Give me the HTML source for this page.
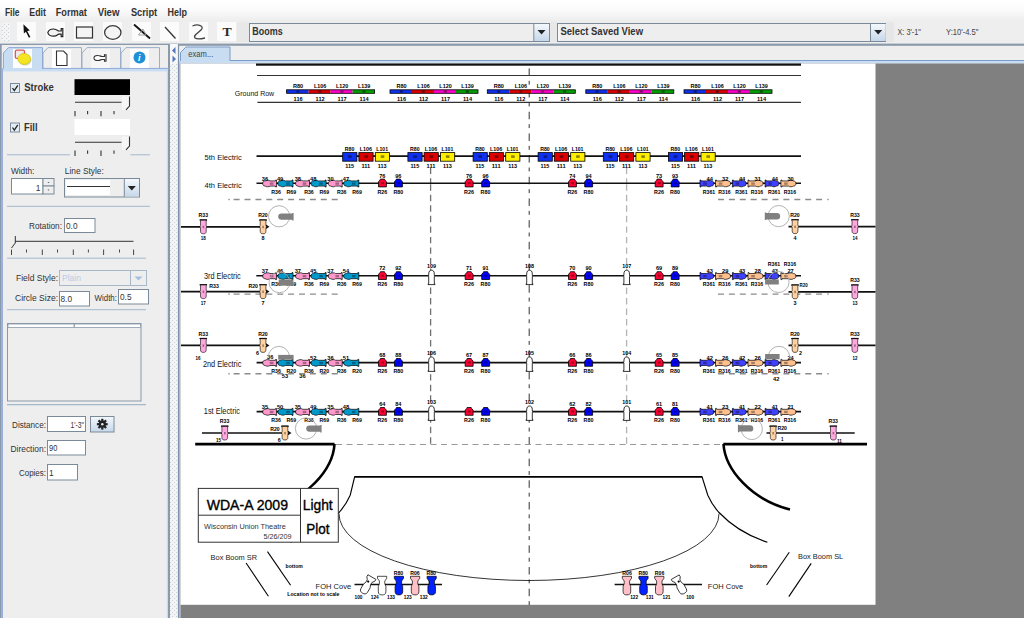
<!DOCTYPE html><html><head><meta charset="utf-8"><title>Light Plot</title>
<style>html,body{margin:0;padding:0;width:1024px;height:618px;overflow:hidden;background:#eeeeee;}svg{display:block;font-family:"Liberation Sans", sans-serif;}</style></head><body>
<svg width="1024" height="618" viewBox="0 0 1024 618">
<defs>
<linearGradient id="mbar" x1="0" y1="0" x2="0" y2="1"><stop offset="0" stop-color="#ffffff"/><stop offset="0.45" stop-color="#fbfbfb"/><stop offset="1" stop-color="#ededed"/></linearGradient>
<linearGradient id="btn" x1="0" y1="0" x2="0" y2="1"><stop offset="0" stop-color="#f4f8fc"/><stop offset="1" stop-color="#c6d8ea"/></linearGradient>
<linearGradient id="tabsel" x1="0" y1="0" x2="0" y2="1"><stop offset="0" stop-color="#c8ddf2"/><stop offset="1" stop-color="#c8ddf2"/></linearGradient>
<pattern id="dots" width="4" height="4" patternUnits="userSpaceOnUse"><rect width="4" height="4" fill="#f4f4f4"/><rect x="0" y="0" width="1" height="1" fill="#c8d0d8"/><rect x="2" y="2" width="1" height="1" fill="#c8d0d8"/></pattern>
<path id="ell" d="M0.5,3.5 C0.5,1.0 2.3,0.3 4.8,0.3 C6.4,0.3 7.4,0.9 8.4,1.0 L14.2,1.0 L14.2,0.2 L15.6,0.2 L15.6,6.8 L14.2,6.8 L14.2,6.0 L8.4,6.0 C7.4,6.1 6.4,6.7 4.8,6.7 C2.3,6.7 0.5,6.0 0.5,3.5 Z" stroke="#000" stroke-width="0.7"/>
<path id="gfish" d="M0.3,3.6 C0.3,1.2 1.8,0.6 4,0.6 L7.5,0.9 L13.5,0.9 L13.5,0 L15.6,0 L15.6,7.3 L13.5,7.3 L13.5,6.6 L7.5,6.6 L4,7 C1.8,7 0.3,6.2 0.3,3.6 Z" fill="#808080"/>
<path id="par" d="M2.1,0.3 L6.2,0.3 L6.6,1.3 L8.1,2.9 L8.1,8.1 L0.2,8.1 L0.2,2.9 L1.7,1.3 Z" stroke="#000" stroke-width="0.8"/>
<path id="wv" d="M0.7,4.2 C0.7,1.2 2.0,0.3 3.5,0.3 C5.0,0.3 6.3,1.2 6.3,4.2 L6.3,5.5 L6.8,6.0 L6.3,6.8 L6.3,13.9 L7.0,13.9 L7.0,14.7 L0.0,14.7 L0.0,13.9 L0.7,13.9 L0.7,6.8 L0.2,6.0 L0.7,5.5 Z" fill="#fff" stroke="#000" stroke-width="0.8"/>
<path id="bv" d="M0.0,0.3 L6.7,0.3 L6.7,1.1 L6.2,1.2 L6.2,6.2 L6.8,7.4 L6.2,8.7 L6.2,11.8 C6.2,13.9 5.0,14.4 3.35,14.4 C1.7,14.4 0.5,13.9 0.5,11.8 L0.5,8.7 L-0.1,7.4 L0.5,6.2 L0.5,1.2 L0.0,1.1 Z" stroke="#000" stroke-width="0.6"/>
<path id="foh" d="M0.3,0.3 L9.5,0.3 L9.5,2.4 L7.6,5.0 L7.6,7.8 L8.7,10.5 L8.7,15.8 C8.7,18.3 6.8,18.9 4.9,18.9 C3.0,18.9 1.1,18.3 1.1,15.8 L1.1,10.5 L2.2,7.8 L2.2,5.0 L0.3,2.4 Z" stroke="#000" stroke-width="0.7"/>
</defs>
<rect x="0" y="0" width="1024" height="21" fill="url(#mbar)"/>
<text x="4.9" y="15.6" font-size="10" textLength="14.6" lengthAdjust="spacingAndGlyphs" font-weight="bold" fill="#333">File</text>
<text x="29.3" y="15.6" font-size="10" textLength="16.6" lengthAdjust="spacingAndGlyphs" font-weight="bold" fill="#333">Edit</text>
<text x="55.7" y="15.6" font-size="10" textLength="31.2" lengthAdjust="spacingAndGlyphs" font-weight="bold" fill="#333">Format</text>
<text x="97.7" y="15.6" font-size="10" textLength="21.8" lengthAdjust="spacingAndGlyphs" font-weight="bold" fill="#333">View</text>
<text x="130.9" y="15.6" font-size="10" textLength="26.3" lengthAdjust="spacingAndGlyphs" font-weight="bold" fill="#333">Script</text>
<text x="167.6" y="15.6" font-size="10" textLength="19.5" lengthAdjust="spacingAndGlyphs" font-weight="bold" fill="#333">Help</text>
<rect x="0" y="21" width="1024" height="23" fill="#eeeeee"/>
<rect x="2" y="23" width="8" height="18" fill="url(#dots)"/>
<rect x="17" y="22" width="19" height="19" fill="#fbfbfb"/>
<rect x="46" y="22" width="19" height="19" fill="#fbfbfb"/>
<rect x="74" y="22" width="19" height="19" fill="#fbfbfb"/>
<rect x="103" y="22" width="19" height="19" fill="#fbfbfb"/>
<rect x="132" y="22" width="19" height="19" fill="#fbfbfb"/>
<rect x="160" y="22" width="19" height="19" fill="#fbfbfb"/>
<rect x="189" y="22" width="19" height="19" fill="#fbfbfb"/>
<rect x="217" y="22" width="19" height="19" fill="#fbfbfb"/>
<path d="M23.4,24.2 L29.8,30.4 L27.2,30.9 L30.4,37.0 L28.9,37.8 L25.9,31.7 L23.9,33.6 Z" fill="#111"/>
<path d="M47.8,32.6 C48.5,30.2 51,29 53.5,29 C56,29 57.5,30.3 58.5,31 L61.2,31 L61.2,28.6 L62.8,28.6 L62.8,36.6 L61.2,36.6 L61.2,34.2 L58.5,34.2 C57.5,34.9 56,36.2 53.5,36.2 C51,36.2 48.5,35 47.8,32.6 Z" fill="#f2f2f2" stroke="#222" stroke-width="1.2"/>
<rect x="76.5" y="27" width="16" height="11" fill="#f4f4f4" stroke="#333" stroke-width="1.2"/>
<ellipse cx="112.8" cy="32.5" rx="8.2" ry="6.8" fill="#f4f4f4" stroke="#3a3a3a" stroke-width="1.3"/>
<path d="M134,24.5 L150,38.5" stroke="#111" stroke-width="1.8"/>
<path d="M138.5,35 L143,29 L146,35 Z" fill="none" stroke="#999" stroke-width="0.9"/>
<line x1="165" y1="27" x2="175.5" y2="38.5" stroke="#333" stroke-width="1.3"/>
<path d="M192.5,26 C198,23.5 205,26 201,30 C197,34 193,35.5 195,38 C197,39.6 201,39 205,38" fill="none" stroke="#444" stroke-width="1.3"/>
<text x="222.4" y="36.2" font-size="12.2" textLength="9.2" lengthAdjust="spacingAndGlyphs" font-weight="bold" fill="#2a2a2a" font-family="Liberation Serif, serif">T</text>
<rect x="237" y="22" width="12" height="20" fill="#e8e8e8"/>
<rect x="249.5" y="23.5" width="300" height="18" fill="#eeeeee" stroke="#7a8a99" stroke-width="1"/>
<rect x="250.5" y="24.5" width="1" height="16" fill="#ffffff"/>
<rect x="534" y="24" width="15" height="17" fill="url(#btn)"/>
<line x1="533.8" y1="23.5" x2="533.8" y2="41.5" stroke="#7a8a99" stroke-width="1"/>
<path d="M537.5,30 L545.5,30 L541.5,34.5 Z" fill="#222"/>
<text x="252.3" y="35.4" font-size="10.6" textLength="30.4" lengthAdjust="spacingAndGlyphs" font-weight="bold" fill="#333">Booms</text>
<rect x="550" y="22" width="7" height="20" fill="#e8e8e8"/>
<rect x="557.5" y="23.5" width="328.5" height="18" fill="#eeeeee" stroke="#7a8a99" stroke-width="1"/>
<rect x="558.5" y="24.5" width="1" height="16" fill="#ffffff"/>
<rect x="871" y="24" width="14.5" height="17" fill="url(#btn)"/>
<line x1="870.5" y1="23.5" x2="870.5" y2="41.5" stroke="#7a8a99" stroke-width="1"/>
<path d="M874.2,30 L882.2,30 L878.2,34.5 Z" fill="#222"/>
<text x="560.5" y="35.4" font-size="10.6" textLength="82.5" lengthAdjust="spacingAndGlyphs" font-weight="bold" fill="#333">Select Saved View</text>
<rect x="886" y="22" width="8" height="20" fill="#e6e6e6"/>
<text x="897.5" y="35" font-size="8.4" textLength="23.4" lengthAdjust="spacingAndGlyphs" fill="#444">X: 3'-1&quot;</text>
<text x="946" y="35" font-size="8.4" textLength="32.4" lengthAdjust="spacingAndGlyphs" fill="#444">Y:10'-4.5&quot;</text>
<rect x="0" y="43.6" width="1024" height="2.2" fill="#8a9aaa"/>
<rect x="0" y="45" width="170" height="573" fill="#eeeeee"/>
<rect x="0" y="44" width="1.7" height="574" fill="#8a9aaa"/>
<rect x="168" y="45" width="2" height="573" fill="#8a9aaa"/>
<rect x="166.7" y="68.9" width="1.3" height="549" fill="#c8ddf2"/>
<path d="M3.4,69.5 L3.4,53 L8.5,47.6 L42.5,47.6 L42.5,69.5" fill="#c8ddf2" stroke="#8da8d8" stroke-width="1"/>
<path d="M43,68.4 L43,53 L48,47.6 L81.5,47.6 L81.5,68.4" fill="#eeeeee" stroke="#9aaec8" stroke-width="1"/>
<path d="M82,68.4 L82,53 L87,47.6 L120.5,47.6 L120.5,68.4" fill="#eeeeee" stroke="#9aaec8" stroke-width="1"/>
<path d="M121,68.4 L121,53 L126,47.6 L159.5,47.6 L159.5,68.4" fill="#eeeeee" stroke="#9aaec8" stroke-width="1"/>
<rect x="2.5" y="68.9" width="164.5" height="2.3" fill="#c8ddf2"/>
<rect x="2.5" y="71.2" width="164.5" height="0.8" fill="#dde8f3"/>
<line x1="42.5" y1="68.4" x2="169" y2="68.4" stroke="#8da8d8" stroke-width="1"/>
<line x1="2.4" y1="68.4" x2="2.4" y2="618" stroke="#8da8d8" stroke-width="1"/>
<rect x="13" y="49" width="19" height="19" fill="#ffffff"/>
<rect x="15.3" y="50.2" width="9.2" height="8.2" rx="1.5" fill="#f0e8e8" stroke="#d55" stroke-width="1.3"/>
<ellipse cx="25.2" cy="60.2" rx="6.3" ry="5.4" fill="#8a8a60" opacity="0.35"/>
<ellipse cx="24.2" cy="58.9" rx="6.4" ry="5.5" fill="#f4e424" stroke="#c8b800" stroke-width="0.6"/>
<rect x="52" y="49" width="19" height="19" fill="#ffffff"/>
<path d="M56.5,51 L63.5,51 L67,54.5 L67,65.5 L56.5,65.5 Z" fill="#fff" stroke="#333" stroke-width="1.1"/>
<rect x="91" y="49" width="19" height="19" fill="#f6f6f6"/>
<path d="M94,58 C94,56 95.5,55.3 98,55.5 C100,55.6 101,56.5 102,56.5 L104.5,56.5 L104.5,54.8 L106,54.8 L106,61.2 L104.5,61.2 L104.5,59.5 L102,59.5 C101,59.5 100,60.4 98,60.5 C95.5,60.7 94,60 94,58 Z" fill="#fff" stroke="#333" stroke-width="1.1"/>
<rect x="130" y="49" width="19" height="19" fill="#ffffff"/>
<circle cx="139.5" cy="57.5" r="6" fill="#1e90d8"/>
<text x="138" y="61" font-size="9" font-weight="bold" fill="#fff" font-style="italic">i</text>
<rect x="10.5" y="83.5" width="9" height="9" fill="#e4ecf5" stroke="#7a8a99" stroke-width="1"/>
<path d="M12.5,88 L14.3,90.6 L17.8,85.3" fill="none" stroke="#222" stroke-width="1.3"/>
<text x="24.3" y="91.2" font-size="10" textLength="29.5" lengthAdjust="spacingAndGlyphs" font-weight="bold" fill="#333">Stroke</text>
<rect x="74.5" y="79.2" width="55.5" height="15.8" fill="#000000"/>
<rect x="122" y="96.5" width="8" height="13.5" fill="#f6f6f6"/>
<line x1="75" y1="102.2" x2="121.5" y2="102.2" stroke="#333" stroke-width="1.1"/>
<path d="M129.5,96.5 L129.5,106 L126,109.8" fill="none" stroke="#333" stroke-width="1.1"/>
<line x1="75" y1="111" x2="75" y2="116.3" stroke="#333" stroke-width="1.1"/>
<line x1="87.6" y1="111" x2="87.6" y2="114.3" stroke="#333" stroke-width="1.1"/>
<line x1="101" y1="111" x2="101" y2="116.3" stroke="#333" stroke-width="1.1"/>
<line x1="114" y1="111" x2="114" y2="114.3" stroke="#333" stroke-width="1.1"/>
<rect x="10.5" y="123.0" width="9" height="9" fill="#e4ecf5" stroke="#7a8a99" stroke-width="1"/>
<path d="M12.5,127.5 L14.3,130.1 L17.8,124.8" fill="none" stroke="#222" stroke-width="1.3"/>
<text x="24" y="130.6" font-size="10" textLength="13.5" lengthAdjust="spacingAndGlyphs" font-weight="bold" fill="#333">Fill</text>
<rect x="74.5" y="119" width="55.5" height="16" fill="#ffffff"/>
<rect x="122" y="136.5" width="8" height="13.5" fill="#f6f6f6"/>
<line x1="75" y1="142.2" x2="121.5" y2="142.2" stroke="#333" stroke-width="1.1"/>
<path d="M129.5,136.5 L129.5,146 L126,149.8" fill="none" stroke="#333" stroke-width="1.1"/>
<line x1="75" y1="150.6" x2="75" y2="156" stroke="#333" stroke-width="1.1"/>
<line x1="87.6" y1="150.6" x2="87.6" y2="153.8" stroke="#333" stroke-width="1.1"/>
<line x1="101" y1="150.6" x2="101" y2="156" stroke="#333" stroke-width="1.1"/>
<line x1="114" y1="150.6" x2="114" y2="153.8" stroke="#333" stroke-width="1.1"/>
<line x1="7" y1="154.8" x2="70" y2="154.8" stroke="#a3b8cc" stroke-width="1"/>
<line x1="130.5" y1="154.8" x2="150" y2="154.8" stroke="#a3b8cc" stroke-width="1"/>
<text x="11" y="174" font-size="8.4" textLength="23.4" lengthAdjust="spacingAndGlyphs" fill="#333">Width:</text>
<rect x="11.5" y="178.5" width="31.5" height="15.5" fill="#ffffff" stroke="#7a8a99" stroke-width="1"/>
<text x="40.5" y="190.5" font-size="8.4" text-anchor="end" fill="#333">1</text>
<rect x="43" y="178.5" width="11" height="7.5" fill="#eeeeee" stroke="#7a8a99" stroke-width="1"/>
<rect x="43" y="186" width="11" height="8" fill="#eeeeee" stroke="#7a8a99" stroke-width="1"/>
<path d="M47.5,183 L49.5,183 L48.5,181.8 Z" fill="#555"/><path d="M47.5,189.5 L49.5,189.5 L48.5,190.7 Z" fill="#555"/>
<text x="64.8" y="174" font-size="8.4" textLength="39" lengthAdjust="spacingAndGlyphs" fill="#333">Line Style:</text>
<rect x="64.5" y="178.5" width="75" height="18.5" fill="#eeeeee" stroke="#7a8a99" stroke-width="1"/>
<rect x="66" y="180" width="44" height="15" fill="#ffffff"/>
<line x1="67" y1="186.5" x2="110" y2="186.5" stroke="#333" stroke-width="1"/>
<rect x="124.5" y="179" width="14.5" height="17.5" fill="url(#btn)"/>
<line x1="124.3" y1="178.5" x2="124.3" y2="197" stroke="#7a8a99" stroke-width="1"/>
<path d="M127.8,186 L135.8,186 L131.8,190.5 Z" fill="#222"/>
<line x1="7" y1="206.3" x2="150" y2="206.3" stroke="#a3b8cc" stroke-width="1"/>
<text x="29" y="229" font-size="8.4" textLength="33" lengthAdjust="spacingAndGlyphs" fill="#333">Rotation:</text>
<rect x="64.5" y="218.5" width="30.5" height="14" fill="#ffffff" stroke="#7a8a99" stroke-width="1"/>
<text x="66" y="229" font-size="8.4" textLength="11.5" lengthAdjust="spacingAndGlyphs" fill="#333">0.0</text>
<line x1="15" y1="241.3" x2="133.5" y2="241.3" stroke="#333" stroke-width="1"/>
<path d="M15.3,236 L15.3,243 L11.5,248" fill="none" stroke="#333" stroke-width="1"/>
<line x1="11.5" y1="249.5" x2="11.5" y2="255" stroke="#333" stroke-width="0.9"/>
<line x1="26.5" y1="249.5" x2="26.5" y2="252.5" stroke="#333" stroke-width="0.9"/>
<line x1="42.3" y1="249.5" x2="42.3" y2="255" stroke="#333" stroke-width="0.9"/>
<line x1="57.5" y1="249.5" x2="57.5" y2="252.5" stroke="#333" stroke-width="0.9"/>
<line x1="73.3" y1="249.5" x2="73.3" y2="255" stroke="#333" stroke-width="0.9"/>
<line x1="88.4" y1="249.5" x2="88.4" y2="252.5" stroke="#333" stroke-width="0.9"/>
<line x1="103.6" y1="249.5" x2="103.6" y2="255" stroke="#333" stroke-width="0.9"/>
<line x1="119.5" y1="249.5" x2="119.5" y2="252.5" stroke="#333" stroke-width="0.9"/>
<line x1="133.6" y1="249.5" x2="133.6" y2="255" stroke="#333" stroke-width="0.9"/>
<line x1="7" y1="258.2" x2="146" y2="258.2" stroke="#a3b8cc" stroke-width="1"/>
<text x="16" y="280.8" font-size="8.4" textLength="42" lengthAdjust="spacingAndGlyphs" fill="#333">Field Style:</text>
<rect x="59.5" y="270.5" width="87" height="15" fill="#eeeeee" stroke="#a8b8c8" stroke-width="1"/>
<line x1="130.5" y1="270.5" x2="130.5" y2="285.5" stroke="#a8b8c8" stroke-width="1"/>
<path d="M134.5,276.5 L142.5,276.5 L138.5,280.5 Z" fill="#a4c0e0"/>
<text x="62" y="281" font-size="8.4" textLength="19" lengthAdjust="spacingAndGlyphs" fill="#b8cce4">Plain</text>
<text x="15" y="301" font-size="8.4" textLength="43" lengthAdjust="spacingAndGlyphs" fill="#333">Circle Size:</text>
<rect x="59.5" y="291.5" width="30" height="14.5" fill="#ffffff" stroke="#7a8a99" stroke-width="1"/>
<text x="60.5" y="302.3" font-size="8.4" textLength="11.5" lengthAdjust="spacingAndGlyphs" fill="#333">8.0</text>
<text x="94.5" y="301" font-size="8.4" textLength="22.5" lengthAdjust="spacingAndGlyphs" fill="#333">Width:</text>
<rect x="118.5" y="289.5" width="30" height="14.5" fill="#ffffff" stroke="#7a8a99" stroke-width="1"/>
<text x="120" y="300.3" font-size="8.4" textLength="11.5" lengthAdjust="spacingAndGlyphs" fill="#333">0.5</text>
<line x1="7" y1="309.7" x2="146" y2="309.7" stroke="#a3b8cc" stroke-width="1"/>
<rect x="7.5" y="323.5" width="133.5" height="77.5" fill="#eeeeee" stroke="#8a98a8" stroke-width="1"/>
<rect x="8" y="324" width="66" height="3.5" fill="#ffffff" stroke="#8a98a8" stroke-width="0.8"/>
<rect x="74.5" y="324" width="66" height="3.5" fill="#ffffff" stroke="#8a98a8" stroke-width="0.8"/>
<line x1="7" y1="404.7" x2="146" y2="404.7" stroke="#a3b8cc" stroke-width="1.2"/>
<text x="12" y="427.5" font-size="8.4" textLength="34" lengthAdjust="spacingAndGlyphs" fill="#333">Distance:</text>
<rect x="47.5" y="416.5" width="38" height="15" fill="#ffffff" stroke="#7a8a99" stroke-width="1"/>
<text x="84" y="427.5" font-size="8.4" textLength="13.5" lengthAdjust="spacingAndGlyphs" text-anchor="end" fill="#333">1'-3&quot;</text>
<rect x="90.5" y="416.5" width="23.5" height="15.5" fill="url(#btn)" stroke="#7a8a99" stroke-width="1"/>
<g transform="translate(102.3,424.2)"><circle r="3.6" fill="#222"/><rect x="-1.1" y="-5.4" width="2.2" height="2.4" fill="#222" transform="rotate(0)"/><rect x="-1.1" y="-5.4" width="2.2" height="2.4" fill="#222" transform="rotate(45)"/><rect x="-1.1" y="-5.4" width="2.2" height="2.4" fill="#222" transform="rotate(90)"/><rect x="-1.1" y="-5.4" width="2.2" height="2.4" fill="#222" transform="rotate(135)"/><rect x="-1.1" y="-5.4" width="2.2" height="2.4" fill="#222" transform="rotate(180)"/><rect x="-1.1" y="-5.4" width="2.2" height="2.4" fill="#222" transform="rotate(225)"/><rect x="-1.1" y="-5.4" width="2.2" height="2.4" fill="#222" transform="rotate(270)"/><rect x="-1.1" y="-5.4" width="2.2" height="2.4" fill="#222" transform="rotate(315)"/><circle r="1.3" fill="#d8e4f0"/></g>
<text x="10.5" y="451.5" font-size="8.4" textLength="35.5" lengthAdjust="spacingAndGlyphs" fill="#333">Direction:</text>
<rect x="47.5" y="440.5" width="38" height="14.5" fill="#ffffff" stroke="#7a8a99" stroke-width="1"/>
<text x="49" y="451.3" font-size="8.4" textLength="8.3" lengthAdjust="spacingAndGlyphs" fill="#333">90</text>
<text x="19" y="475.5" font-size="8.4" textLength="27" lengthAdjust="spacingAndGlyphs" fill="#333">Copies:</text>
<rect x="47.5" y="464.5" width="30" height="15.5" fill="#ffffff" stroke="#7a8a99" stroke-width="1"/>
<text x="49" y="475.5" font-size="8.4" fill="#333">1</text>
<rect x="170" y="45.8" width="8" height="572.2" fill="url(#dots)"/>
<rect x="170" y="44" width="8" height="19.8" fill="#f8f8f8"/>
<path d="M175.5,47 L175.5,54 L172,50.5 Z" fill="#5577bb"/>
<path d="M172.5,55.5 L172.5,62.5 L176,59 Z" fill="#5577bb"/>
<line x1="178.5" y1="44.5" x2="178.5" y2="618" stroke="#7f93ad" stroke-width="1.2"/>
<line x1="179.7" y1="61" x2="179.7" y2="618" stroke="#98b4dc" stroke-width="1.2"/>
<path d="M180.5,61 L180.5,52.5 L186,47 L230,47 L230,61" fill="#c8ddf2" stroke="#7a9cc8" stroke-width="1"/>
<line x1="230" y1="60.5" x2="1024" y2="60.5" stroke="#7a9cc8" stroke-width="1"/>
<rect x="179.5" y="61" width="845" height="2.6" fill="#c8ddf2"/>
<text x="188.3" y="56.6" font-size="8.2" textLength="25" lengthAdjust="spacingAndGlyphs" fill="#444">exam...</text>
<rect x="180.5" y="63.5" width="843.5" height="554.5" fill="#808080"/>
<rect x="180.5" y="63.5" width="695.0" height="541.3" fill="#ffffff"/>
<g id="drawing">
<line x1="529.2" y1="68.4" x2="529.2" y2="605" stroke="#333" stroke-width="1" stroke-dasharray="7.5 4.9 3.9 5.38"/>
<line x1="430.6" y1="167.7" x2="430.6" y2="183.2" stroke="#707070" stroke-width="1.3" stroke-dasharray="6.4 4.12"/>
<line x1="430.6" y1="184.3" x2="430.6" y2="275.8" stroke="#707070" stroke-width="1.3" stroke-dasharray="6.4 4.12"/>
<line x1="430.6" y1="277.0" x2="430.6" y2="362.6" stroke="#707070" stroke-width="1.3" stroke-dasharray="6.4 4.12"/>
<line x1="430.6" y1="363.7" x2="430.6" y2="444.0" stroke="#707070" stroke-width="1.3" stroke-dasharray="6.4 4.12"/>
<line x1="626.6" y1="167.7" x2="626.6" y2="183.2" stroke="#b4b4b4" stroke-width="1.3" stroke-dasharray="6.4 4.12"/>
<line x1="626.6" y1="184.3" x2="626.6" y2="275.8" stroke="#b4b4b4" stroke-width="1.3" stroke-dasharray="6.4 4.12"/>
<line x1="626.6" y1="277.0" x2="626.6" y2="362.6" stroke="#b4b4b4" stroke-width="1.3" stroke-dasharray="6.4 4.12"/>
<line x1="626.6" y1="363.7" x2="626.6" y2="444.0" stroke="#b4b4b4" stroke-width="1.3" stroke-dasharray="6.4 4.12"/>
<rect x="256" y="63.5" width="545" height="2.2" fill="#111"/>
<line x1="257" y1="75.5" x2="801" y2="75.5" stroke="#333" stroke-width="1.1"/>
<line x1="257.4" y1="102.4" x2="801" y2="102.4" stroke="#333" stroke-width="1.1"/>
<text x="234.8" y="95.7" font-size="7.6" textLength="39.4" lengthAdjust="spacingAndGlyphs" fill="#111">Ground Row</text>
<rect x="286.6" y="89.8" width="22" height="3.5" fill="#1030f0"/>
<text x="298.1" y="88.1" font-size="5.9" textLength="10.2" lengthAdjust="spacingAndGlyphs" text-anchor="middle" font-weight="bold">R80</text>
<text x="298.1" y="100.6" font-size="5.9" textLength="9" lengthAdjust="spacingAndGlyphs" text-anchor="middle" font-weight="bold">116</text>
<rect x="296.40000000000003" y="90.6" width="3" height="1.8" fill="#000" opacity="0.55"/>
<rect x="308.6" y="89.8" width="22" height="3.5" fill="#dd0000"/>
<text x="320.1" y="88.1" font-size="5.9" textLength="12.3" lengthAdjust="spacingAndGlyphs" text-anchor="middle" font-weight="bold">L106</text>
<text x="320.1" y="100.6" font-size="5.9" textLength="9" lengthAdjust="spacingAndGlyphs" text-anchor="middle" font-weight="bold">112</text>
<rect x="318.40000000000003" y="90.6" width="3" height="1.8" fill="#000" opacity="0.55"/>
<rect x="330.6" y="89.8" width="22" height="3.5" fill="#ff00cc"/>
<text x="342.1" y="88.1" font-size="5.9" textLength="12.3" lengthAdjust="spacingAndGlyphs" text-anchor="middle" font-weight="bold">L120</text>
<text x="342.1" y="100.6" font-size="5.9" textLength="9" lengthAdjust="spacingAndGlyphs" text-anchor="middle" font-weight="bold">117</text>
<rect x="340.40000000000003" y="90.6" width="3" height="1.8" fill="#000" opacity="0.55"/>
<rect x="352.6" y="89.8" width="22" height="3.5" fill="#00a000"/>
<text x="364.1" y="88.1" font-size="5.9" textLength="12.3" lengthAdjust="spacingAndGlyphs" text-anchor="middle" font-weight="bold">L139</text>
<text x="364.1" y="100.6" font-size="5.9" textLength="9" lengthAdjust="spacingAndGlyphs" text-anchor="middle" font-weight="bold">114</text>
<rect x="362.40000000000003" y="90.6" width="3" height="1.8" fill="#000" opacity="0.55"/>
<rect x="286.6" y="89.8" width="88" height="3.5" fill="none" stroke="#000" stroke-width="0.8"/>
<rect x="390" y="89.8" width="22" height="3.5" fill="#1030f0"/>
<text x="401.5" y="88.1" font-size="5.9" textLength="10.2" lengthAdjust="spacingAndGlyphs" text-anchor="middle" font-weight="bold">R80</text>
<text x="401.5" y="100.6" font-size="5.9" textLength="9" lengthAdjust="spacingAndGlyphs" text-anchor="middle" font-weight="bold">116</text>
<rect x="399.8" y="90.6" width="3" height="1.8" fill="#000" opacity="0.55"/>
<rect x="412" y="89.8" width="22" height="3.5" fill="#dd0000"/>
<text x="423.5" y="88.1" font-size="5.9" textLength="12.3" lengthAdjust="spacingAndGlyphs" text-anchor="middle" font-weight="bold">L106</text>
<text x="423.5" y="100.6" font-size="5.9" textLength="9" lengthAdjust="spacingAndGlyphs" text-anchor="middle" font-weight="bold">112</text>
<rect x="421.8" y="90.6" width="3" height="1.8" fill="#000" opacity="0.55"/>
<rect x="434" y="89.8" width="22" height="3.5" fill="#ff00cc"/>
<text x="445.5" y="88.1" font-size="5.9" textLength="12.3" lengthAdjust="spacingAndGlyphs" text-anchor="middle" font-weight="bold">L120</text>
<text x="445.5" y="100.6" font-size="5.9" textLength="9" lengthAdjust="spacingAndGlyphs" text-anchor="middle" font-weight="bold">117</text>
<rect x="443.8" y="90.6" width="3" height="1.8" fill="#000" opacity="0.55"/>
<rect x="456" y="89.8" width="22" height="3.5" fill="#00a000"/>
<text x="467.5" y="88.1" font-size="5.9" textLength="12.3" lengthAdjust="spacingAndGlyphs" text-anchor="middle" font-weight="bold">L139</text>
<text x="467.5" y="100.6" font-size="5.9" textLength="9" lengthAdjust="spacingAndGlyphs" text-anchor="middle" font-weight="bold">114</text>
<rect x="465.8" y="90.6" width="3" height="1.8" fill="#000" opacity="0.55"/>
<rect x="390" y="89.8" width="88" height="3.5" fill="none" stroke="#000" stroke-width="0.8"/>
<rect x="487.3" y="89.8" width="22" height="3.5" fill="#1030f0"/>
<text x="498.8" y="88.1" font-size="5.9" textLength="10.2" lengthAdjust="spacingAndGlyphs" text-anchor="middle" font-weight="bold">R80</text>
<text x="498.8" y="100.6" font-size="5.9" textLength="9" lengthAdjust="spacingAndGlyphs" text-anchor="middle" font-weight="bold">116</text>
<rect x="497.1" y="90.6" width="3" height="1.8" fill="#000" opacity="0.55"/>
<rect x="509.3" y="89.8" width="22" height="3.5" fill="#dd0000"/>
<text x="520.8" y="88.1" font-size="5.9" textLength="12.3" lengthAdjust="spacingAndGlyphs" text-anchor="middle" font-weight="bold">L106</text>
<text x="520.8" y="100.6" font-size="5.9" textLength="9" lengthAdjust="spacingAndGlyphs" text-anchor="middle" font-weight="bold">112</text>
<rect x="519.1" y="90.6" width="3" height="1.8" fill="#000" opacity="0.55"/>
<rect x="531.3" y="89.8" width="22" height="3.5" fill="#ff00cc"/>
<text x="542.8" y="88.1" font-size="5.9" textLength="12.3" lengthAdjust="spacingAndGlyphs" text-anchor="middle" font-weight="bold">L120</text>
<text x="542.8" y="100.6" font-size="5.9" textLength="9" lengthAdjust="spacingAndGlyphs" text-anchor="middle" font-weight="bold">117</text>
<rect x="541.0999999999999" y="90.6" width="3" height="1.8" fill="#000" opacity="0.55"/>
<rect x="553.3" y="89.8" width="22" height="3.5" fill="#00a000"/>
<text x="564.8" y="88.1" font-size="5.9" textLength="12.3" lengthAdjust="spacingAndGlyphs" text-anchor="middle" font-weight="bold">L139</text>
<text x="564.8" y="100.6" font-size="5.9" textLength="9" lengthAdjust="spacingAndGlyphs" text-anchor="middle" font-weight="bold">114</text>
<rect x="563.0999999999999" y="90.6" width="3" height="1.8" fill="#000" opacity="0.55"/>
<rect x="487.3" y="89.8" width="88" height="3.5" fill="none" stroke="#000" stroke-width="0.8"/>
<rect x="585.8" y="89.8" width="22" height="3.5" fill="#1030f0"/>
<text x="597.3" y="88.1" font-size="5.9" textLength="10.2" lengthAdjust="spacingAndGlyphs" text-anchor="middle" font-weight="bold">R80</text>
<text x="597.3" y="100.6" font-size="5.9" textLength="9" lengthAdjust="spacingAndGlyphs" text-anchor="middle" font-weight="bold">116</text>
<rect x="595.5999999999999" y="90.6" width="3" height="1.8" fill="#000" opacity="0.55"/>
<rect x="607.8" y="89.8" width="22" height="3.5" fill="#dd0000"/>
<text x="619.3" y="88.1" font-size="5.9" textLength="12.3" lengthAdjust="spacingAndGlyphs" text-anchor="middle" font-weight="bold">L106</text>
<text x="619.3" y="100.6" font-size="5.9" textLength="9" lengthAdjust="spacingAndGlyphs" text-anchor="middle" font-weight="bold">112</text>
<rect x="617.5999999999999" y="90.6" width="3" height="1.8" fill="#000" opacity="0.55"/>
<rect x="629.8" y="89.8" width="22" height="3.5" fill="#ff00cc"/>
<text x="641.3" y="88.1" font-size="5.9" textLength="12.3" lengthAdjust="spacingAndGlyphs" text-anchor="middle" font-weight="bold">L120</text>
<text x="641.3" y="100.6" font-size="5.9" textLength="9" lengthAdjust="spacingAndGlyphs" text-anchor="middle" font-weight="bold">117</text>
<rect x="639.5999999999999" y="90.6" width="3" height="1.8" fill="#000" opacity="0.55"/>
<rect x="651.8" y="89.8" width="22" height="3.5" fill="#00a000"/>
<text x="663.3" y="88.1" font-size="5.9" textLength="12.3" lengthAdjust="spacingAndGlyphs" text-anchor="middle" font-weight="bold">L139</text>
<text x="663.3" y="100.6" font-size="5.9" textLength="9" lengthAdjust="spacingAndGlyphs" text-anchor="middle" font-weight="bold">114</text>
<rect x="661.5999999999999" y="90.6" width="3" height="1.8" fill="#000" opacity="0.55"/>
<rect x="585.8" y="89.8" width="88" height="3.5" fill="none" stroke="#000" stroke-width="0.8"/>
<rect x="684" y="89.8" width="22" height="3.5" fill="#1030f0"/>
<text x="695.5" y="88.1" font-size="5.9" textLength="10.2" lengthAdjust="spacingAndGlyphs" text-anchor="middle" font-weight="bold">R80</text>
<text x="695.5" y="100.6" font-size="5.9" textLength="9" lengthAdjust="spacingAndGlyphs" text-anchor="middle" font-weight="bold">116</text>
<rect x="693.8" y="90.6" width="3" height="1.8" fill="#000" opacity="0.55"/>
<rect x="706" y="89.8" width="22" height="3.5" fill="#dd0000"/>
<text x="717.5" y="88.1" font-size="5.9" textLength="12.3" lengthAdjust="spacingAndGlyphs" text-anchor="middle" font-weight="bold">L106</text>
<text x="717.5" y="100.6" font-size="5.9" textLength="9" lengthAdjust="spacingAndGlyphs" text-anchor="middle" font-weight="bold">112</text>
<rect x="715.8" y="90.6" width="3" height="1.8" fill="#000" opacity="0.55"/>
<rect x="728" y="89.8" width="22" height="3.5" fill="#ff00cc"/>
<text x="739.5" y="88.1" font-size="5.9" textLength="12.3" lengthAdjust="spacingAndGlyphs" text-anchor="middle" font-weight="bold">L120</text>
<text x="739.5" y="100.6" font-size="5.9" textLength="9" lengthAdjust="spacingAndGlyphs" text-anchor="middle" font-weight="bold">117</text>
<rect x="737.8" y="90.6" width="3" height="1.8" fill="#000" opacity="0.55"/>
<rect x="750" y="89.8" width="22" height="3.5" fill="#00a000"/>
<text x="761.5" y="88.1" font-size="5.9" textLength="12.3" lengthAdjust="spacingAndGlyphs" text-anchor="middle" font-weight="bold">L139</text>
<text x="761.5" y="100.6" font-size="5.9" textLength="9" lengthAdjust="spacingAndGlyphs" text-anchor="middle" font-weight="bold">114</text>
<rect x="759.8" y="90.6" width="3" height="1.8" fill="#000" opacity="0.55"/>
<rect x="684" y="89.8" width="88" height="3.5" fill="none" stroke="#000" stroke-width="0.8"/>
<text x="204.6" y="160.2" font-size="8.1" textLength="37.2" lengthAdjust="spacingAndGlyphs" fill="#111">5th Electric</text>
<line x1="256.5" y1="156.1" x2="801" y2="156.1" stroke="#111" stroke-width="1.6"/>
<rect x="342.7" y="152.6" width="14.2" height="8.6" fill="#1030f0" stroke="#000" stroke-width="0.8"/>
<text x="349.6" y="150.6" font-size="5.9" textLength="9.5" lengthAdjust="spacingAndGlyphs" text-anchor="middle" font-weight="bold">R80</text>
<text x="349.6" y="168.1" font-size="5.9" textLength="8.8" lengthAdjust="spacingAndGlyphs" text-anchor="middle" font-weight="bold">115</text>
<rect x="348.1" y="155.3" width="3.6" height="2.6" fill="#000" opacity="0.45"/>
<rect x="358.9" y="152.6" width="14.2" height="8.6" fill="#dd0000" stroke="#000" stroke-width="0.8"/>
<text x="365.8" y="150.6" font-size="5.9" textLength="12.3" lengthAdjust="spacingAndGlyphs" text-anchor="middle" font-weight="bold">L106</text>
<text x="365.8" y="168.1" font-size="5.9" textLength="8.8" lengthAdjust="spacingAndGlyphs" text-anchor="middle" font-weight="bold">111</text>
<rect x="364.3" y="155.3" width="3.6" height="2.6" fill="#000" opacity="0.45"/>
<rect x="375.3" y="152.6" width="14.2" height="8.6" fill="#ffee00" stroke="#000" stroke-width="0.8"/>
<text x="382.20000000000005" y="150.6" font-size="5.9" textLength="11.7" lengthAdjust="spacingAndGlyphs" text-anchor="middle" font-weight="bold">L101</text>
<text x="382.20000000000005" y="168.1" font-size="5.9" textLength="8.8" lengthAdjust="spacingAndGlyphs" text-anchor="middle" font-weight="bold">113</text>
<rect x="380.70000000000005" y="155.3" width="3.6" height="2.6" fill="#000" opacity="0.45"/>
<rect x="407.9" y="152.6" width="14.2" height="8.6" fill="#1030f0" stroke="#000" stroke-width="0.8"/>
<text x="414.8" y="150.6" font-size="5.9" textLength="9.5" lengthAdjust="spacingAndGlyphs" text-anchor="middle" font-weight="bold">R80</text>
<text x="414.8" y="168.1" font-size="5.9" textLength="8.8" lengthAdjust="spacingAndGlyphs" text-anchor="middle" font-weight="bold">115</text>
<rect x="413.3" y="155.3" width="3.6" height="2.6" fill="#000" opacity="0.45"/>
<rect x="424.09999999999997" y="152.6" width="14.2" height="8.6" fill="#dd0000" stroke="#000" stroke-width="0.8"/>
<text x="431.0" y="150.6" font-size="5.9" textLength="12.3" lengthAdjust="spacingAndGlyphs" text-anchor="middle" font-weight="bold">L106</text>
<text x="431.0" y="168.1" font-size="5.9" textLength="8.8" lengthAdjust="spacingAndGlyphs" text-anchor="middle" font-weight="bold">111</text>
<rect x="429.5" y="155.3" width="3.6" height="2.6" fill="#000" opacity="0.45"/>
<rect x="440.5" y="152.6" width="14.2" height="8.6" fill="#ffee00" stroke="#000" stroke-width="0.8"/>
<text x="447.40000000000003" y="150.6" font-size="5.9" textLength="11.7" lengthAdjust="spacingAndGlyphs" text-anchor="middle" font-weight="bold">L101</text>
<text x="447.40000000000003" y="168.1" font-size="5.9" textLength="8.8" lengthAdjust="spacingAndGlyphs" text-anchor="middle" font-weight="bold">113</text>
<rect x="445.90000000000003" y="155.3" width="3.6" height="2.6" fill="#000" opacity="0.45"/>
<rect x="473.09999999999997" y="152.6" width="14.2" height="8.6" fill="#1030f0" stroke="#000" stroke-width="0.8"/>
<text x="480.0" y="150.6" font-size="5.9" textLength="9.5" lengthAdjust="spacingAndGlyphs" text-anchor="middle" font-weight="bold">R80</text>
<text x="480.0" y="168.1" font-size="5.9" textLength="8.8" lengthAdjust="spacingAndGlyphs" text-anchor="middle" font-weight="bold">115</text>
<rect x="478.5" y="155.3" width="3.6" height="2.6" fill="#000" opacity="0.45"/>
<rect x="489.29999999999995" y="152.6" width="14.2" height="8.6" fill="#dd0000" stroke="#000" stroke-width="0.8"/>
<text x="496.2" y="150.6" font-size="5.9" textLength="12.3" lengthAdjust="spacingAndGlyphs" text-anchor="middle" font-weight="bold">L106</text>
<text x="496.2" y="168.1" font-size="5.9" textLength="8.8" lengthAdjust="spacingAndGlyphs" text-anchor="middle" font-weight="bold">111</text>
<rect x="494.7" y="155.3" width="3.6" height="2.6" fill="#000" opacity="0.45"/>
<rect x="505.7" y="152.6" width="14.2" height="8.6" fill="#ffee00" stroke="#000" stroke-width="0.8"/>
<text x="512.6" y="150.6" font-size="5.9" textLength="11.7" lengthAdjust="spacingAndGlyphs" text-anchor="middle" font-weight="bold">L101</text>
<text x="512.6" y="168.1" font-size="5.9" textLength="8.8" lengthAdjust="spacingAndGlyphs" text-anchor="middle" font-weight="bold">113</text>
<rect x="511.1" y="155.3" width="3.6" height="2.6" fill="#000" opacity="0.45"/>
<rect x="538.1" y="152.6" width="14.2" height="8.6" fill="#1030f0" stroke="#000" stroke-width="0.8"/>
<text x="545.0" y="150.6" font-size="5.9" textLength="9.5" lengthAdjust="spacingAndGlyphs" text-anchor="middle" font-weight="bold">R80</text>
<text x="545.0" y="168.1" font-size="5.9" textLength="8.8" lengthAdjust="spacingAndGlyphs" text-anchor="middle" font-weight="bold">115</text>
<rect x="543.5" y="155.3" width="3.6" height="2.6" fill="#000" opacity="0.45"/>
<rect x="554.3000000000001" y="152.6" width="14.2" height="8.6" fill="#dd0000" stroke="#000" stroke-width="0.8"/>
<text x="561.2" y="150.6" font-size="5.9" textLength="12.3" lengthAdjust="spacingAndGlyphs" text-anchor="middle" font-weight="bold">L106</text>
<text x="561.2" y="168.1" font-size="5.9" textLength="8.8" lengthAdjust="spacingAndGlyphs" text-anchor="middle" font-weight="bold">111</text>
<rect x="559.7" y="155.3" width="3.6" height="2.6" fill="#000" opacity="0.45"/>
<rect x="570.7" y="152.6" width="14.2" height="8.6" fill="#ffee00" stroke="#000" stroke-width="0.8"/>
<text x="577.6" y="150.6" font-size="5.9" textLength="11.7" lengthAdjust="spacingAndGlyphs" text-anchor="middle" font-weight="bold">L101</text>
<text x="577.6" y="168.1" font-size="5.9" textLength="8.8" lengthAdjust="spacingAndGlyphs" text-anchor="middle" font-weight="bold">113</text>
<rect x="576.1" y="155.3" width="3.6" height="2.6" fill="#000" opacity="0.45"/>
<rect x="603.3" y="152.6" width="14.2" height="8.6" fill="#1030f0" stroke="#000" stroke-width="0.8"/>
<text x="610.1999999999999" y="150.6" font-size="5.9" textLength="9.5" lengthAdjust="spacingAndGlyphs" text-anchor="middle" font-weight="bold">R80</text>
<text x="610.1999999999999" y="168.1" font-size="5.9" textLength="8.8" lengthAdjust="spacingAndGlyphs" text-anchor="middle" font-weight="bold">115</text>
<rect x="608.6999999999999" y="155.3" width="3.6" height="2.6" fill="#000" opacity="0.45"/>
<rect x="619.5" y="152.6" width="14.2" height="8.6" fill="#dd0000" stroke="#000" stroke-width="0.8"/>
<text x="626.4" y="150.6" font-size="5.9" textLength="12.3" lengthAdjust="spacingAndGlyphs" text-anchor="middle" font-weight="bold">L106</text>
<text x="626.4" y="168.1" font-size="5.9" textLength="8.8" lengthAdjust="spacingAndGlyphs" text-anchor="middle" font-weight="bold">111</text>
<rect x="624.9" y="155.3" width="3.6" height="2.6" fill="#000" opacity="0.45"/>
<rect x="635.9" y="152.6" width="14.2" height="8.6" fill="#ffee00" stroke="#000" stroke-width="0.8"/>
<text x="642.8" y="150.6" font-size="5.9" textLength="11.7" lengthAdjust="spacingAndGlyphs" text-anchor="middle" font-weight="bold">L101</text>
<text x="642.8" y="168.1" font-size="5.9" textLength="8.8" lengthAdjust="spacingAndGlyphs" text-anchor="middle" font-weight="bold">113</text>
<rect x="641.3" y="155.3" width="3.6" height="2.6" fill="#000" opacity="0.45"/>
<rect x="668.4" y="152.6" width="14.2" height="8.6" fill="#1030f0" stroke="#000" stroke-width="0.8"/>
<text x="675.3" y="150.6" font-size="5.9" textLength="9.5" lengthAdjust="spacingAndGlyphs" text-anchor="middle" font-weight="bold">R80</text>
<text x="675.3" y="168.1" font-size="5.9" textLength="8.8" lengthAdjust="spacingAndGlyphs" text-anchor="middle" font-weight="bold">115</text>
<rect x="673.8" y="155.3" width="3.6" height="2.6" fill="#000" opacity="0.45"/>
<rect x="684.6" y="152.6" width="14.2" height="8.6" fill="#dd0000" stroke="#000" stroke-width="0.8"/>
<text x="691.5" y="150.6" font-size="5.9" textLength="12.3" lengthAdjust="spacingAndGlyphs" text-anchor="middle" font-weight="bold">L106</text>
<text x="691.5" y="168.1" font-size="5.9" textLength="8.8" lengthAdjust="spacingAndGlyphs" text-anchor="middle" font-weight="bold">111</text>
<rect x="690.0" y="155.3" width="3.6" height="2.6" fill="#000" opacity="0.45"/>
<rect x="701.0" y="152.6" width="14.2" height="8.6" fill="#ffee00" stroke="#000" stroke-width="0.8"/>
<text x="707.9" y="150.6" font-size="5.9" textLength="11.7" lengthAdjust="spacingAndGlyphs" text-anchor="middle" font-weight="bold">L101</text>
<text x="707.9" y="168.1" font-size="5.9" textLength="8.8" lengthAdjust="spacingAndGlyphs" text-anchor="middle" font-weight="bold">113</text>
<rect x="706.4" y="155.3" width="3.6" height="2.6" fill="#000" opacity="0.45"/>
<text x="204.6" y="187.9" font-size="8.1" textLength="37.2" lengthAdjust="spacingAndGlyphs" fill="#111">4th Electric</text>
<line x1="256.5" y1="183.2" x2="801" y2="183.2" stroke="#111" stroke-width="1.6"/>
<path d="M262.70,183.50 C262.70,181.60 263.70,181.00 265.20,180.90 C266.20,180.00 269.00,180.00 270.00,180.90 L275.60,180.90 L275.60,180.00 L276.60,180.00 L276.60,187.00 L275.60,187.00 L275.60,186.10 L270.00,186.10 C269.00,187.00 266.20,187.00 265.20,186.10 C263.70,186.00 262.70,185.40 262.70,183.50 Z" fill="#ff99cc" stroke="#000" stroke-width="0.7"/>
<rect x="269.79999999999995" y="182.4" width="3.6" height="2.4" fill="#000" opacity="0.35"/>
<text x="264.9" y="180.7" font-size="5.9" textLength="6.3" lengthAdjust="spacingAndGlyphs" text-anchor="middle" font-weight="bold">36</text>
<text x="276.09999999999997" y="193.6" font-size="5.9" textLength="9.6" lengthAdjust="spacingAndGlyphs" text-anchor="middle" font-weight="bold">R36</text>
<path d="M277.90,183.50 C277.90,181.60 278.90,181.00 280.40,180.90 C281.40,180.00 284.20,180.00 285.20,180.90 L292.00,180.90 L292.00,180.00 L293.00,180.00 L293.00,187.00 L292.00,187.00 L292.00,186.10 L285.20,186.10 C284.20,187.00 281.40,187.00 280.40,186.10 C278.90,186.00 277.90,185.40 277.90,183.50 Z" fill="#0099cc" stroke="#000" stroke-width="0.7"/>
<rect x="286.2" y="182.4" width="3.6" height="2.4" fill="#000" opacity="0.35"/>
<text x="280.1" y="180.7" font-size="5.9" textLength="6.3" lengthAdjust="spacingAndGlyphs" text-anchor="middle" font-weight="bold">49</text>
<text x="291.3" y="193.6" font-size="5.9" textLength="9.6" lengthAdjust="spacingAndGlyphs" text-anchor="middle" font-weight="bold">R69</text>
<path d="M295.60,183.50 C295.60,181.60 296.60,181.00 298.10,180.90 C299.10,180.00 301.90,180.00 302.90,180.90 L308.50,180.90 L308.50,180.00 L309.50,180.00 L309.50,187.00 L308.50,187.00 L308.50,186.10 L302.90,186.10 C301.90,187.00 299.10,187.00 298.10,186.10 C296.60,186.00 295.60,185.40 295.60,183.50 Z" fill="#ff99cc" stroke="#000" stroke-width="0.7"/>
<rect x="302.7" y="182.4" width="3.6" height="2.4" fill="#000" opacity="0.35"/>
<text x="297.8" y="180.7" font-size="5.9" textLength="6.3" lengthAdjust="spacingAndGlyphs" text-anchor="middle" font-weight="bold">38</text>
<text x="309.0" y="193.6" font-size="5.9" textLength="9.6" lengthAdjust="spacingAndGlyphs" text-anchor="middle" font-weight="bold">R36</text>
<path d="M311.00,183.50 C311.00,181.60 312.00,181.00 313.50,180.90 C314.50,180.00 317.30,180.00 318.30,180.90 L325.10,180.90 L325.10,180.00 L326.10,180.00 L326.10,187.00 L325.10,187.00 L325.10,186.10 L318.30,186.10 C317.30,187.00 314.50,187.00 313.50,186.10 C312.00,186.00 311.00,185.40 311.00,183.50 Z" fill="#0099cc" stroke="#000" stroke-width="0.7"/>
<rect x="319.29999999999995" y="182.4" width="3.6" height="2.4" fill="#000" opacity="0.35"/>
<text x="313.2" y="180.7" font-size="5.9" textLength="6.3" lengthAdjust="spacingAndGlyphs" text-anchor="middle" font-weight="bold">48</text>
<text x="324.4" y="193.6" font-size="5.9" textLength="9.6" lengthAdjust="spacingAndGlyphs" text-anchor="middle" font-weight="bold">R69</text>
<path d="M328.30,183.50 C328.30,181.60 329.30,181.00 330.80,180.90 C331.80,180.00 334.60,180.00 335.60,180.90 L341.20,180.90 L341.20,180.00 L342.20,180.00 L342.20,187.00 L341.20,187.00 L341.20,186.10 L335.60,186.10 C334.60,187.00 331.80,187.00 330.80,186.10 C329.30,186.00 328.30,185.40 328.30,183.50 Z" fill="#ff99cc" stroke="#000" stroke-width="0.7"/>
<rect x="335.4" y="182.4" width="3.6" height="2.4" fill="#000" opacity="0.35"/>
<text x="330.5" y="180.7" font-size="5.9" textLength="6.3" lengthAdjust="spacingAndGlyphs" text-anchor="middle" font-weight="bold">30</text>
<text x="341.7" y="193.6" font-size="5.9" textLength="9.6" lengthAdjust="spacingAndGlyphs" text-anchor="middle" font-weight="bold">R36</text>
<path d="M343.70,183.50 C343.70,181.60 344.70,181.00 346.20,180.90 C347.20,180.00 350.00,180.00 351.00,180.90 L357.80,180.90 L357.80,180.00 L358.80,180.00 L358.80,187.00 L357.80,187.00 L357.80,186.10 L351.00,186.10 C350.00,187.00 347.20,187.00 346.20,186.10 C344.70,186.00 343.70,185.40 343.70,183.50 Z" fill="#0099cc" stroke="#000" stroke-width="0.7"/>
<rect x="351.99999999999994" y="182.4" width="3.6" height="2.4" fill="#000" opacity="0.35"/>
<text x="345.9" y="180.7" font-size="5.9" textLength="6.3" lengthAdjust="spacingAndGlyphs" text-anchor="middle" font-weight="bold">47</text>
<text x="357.09999999999997" y="193.6" font-size="5.9" textLength="9.6" lengthAdjust="spacingAndGlyphs" text-anchor="middle" font-weight="bold">R69</text>
<path d="M713.80,183.50 C713.80,181.60 712.80,181.00 711.30,180.90 C710.30,180.00 707.50,180.00 706.50,180.90 L701.00,180.90 L701.00,180.00 L700.00,180.00 L700.00,187.00 L701.00,187.00 L701.00,186.10 L706.50,186.10 C707.50,187.00 710.30,187.00 711.30,186.10 C712.80,186.00 713.80,185.40 713.80,183.50 Z" fill="#4040ff" stroke="#000" stroke-width="0.7"/>
<rect x="703.2" y="182.4" width="3.6" height="2.4" fill="#000" opacity="0.35"/>
<text x="709.7" y="180.7" font-size="5.9" textLength="6.3" lengthAdjust="spacingAndGlyphs" text-anchor="middle" font-weight="bold">44</text>
<text x="709.0" y="193.6" font-size="5.9" textLength="12.4" lengthAdjust="spacingAndGlyphs" text-anchor="middle" font-weight="bold">R361</text>
<path d="M730.50,183.50 C730.50,181.60 729.50,181.00 728.00,180.90 C727.00,180.00 724.20,180.00 723.20,180.90 L716.50,180.90 L716.50,180.00 L715.50,180.00 L715.50,187.00 L716.50,187.00 L716.50,186.10 L723.20,186.10 C724.20,187.00 727.00,187.00 728.00,186.10 C729.50,186.00 730.50,185.40 730.50,183.50 Z" fill="#ffc090" stroke="#000" stroke-width="0.7"/>
<rect x="718.7" y="182.4" width="3.6" height="2.4" fill="#000" opacity="0.35"/>
<text x="725.2" y="180.7" font-size="5.9" textLength="6.3" lengthAdjust="spacingAndGlyphs" text-anchor="middle" font-weight="bold">32</text>
<text x="724.5" y="193.6" font-size="5.9" textLength="12.4" lengthAdjust="spacingAndGlyphs" text-anchor="middle" font-weight="bold">R316</text>
<path d="M746.20,183.50 C746.20,181.60 745.20,181.00 743.70,180.90 C742.70,180.00 739.90,180.00 738.90,180.90 L733.40,180.90 L733.40,180.00 L732.40,180.00 L732.40,187.00 L733.40,187.00 L733.40,186.10 L738.90,186.10 C739.90,187.00 742.70,187.00 743.70,186.10 C745.20,186.00 746.20,185.40 746.20,183.50 Z" fill="#4040ff" stroke="#000" stroke-width="0.7"/>
<rect x="735.6" y="182.4" width="3.6" height="2.4" fill="#000" opacity="0.35"/>
<text x="742.1" y="180.7" font-size="5.9" textLength="6.3" lengthAdjust="spacingAndGlyphs" text-anchor="middle" font-weight="bold">44</text>
<text x="741.4" y="193.6" font-size="5.9" textLength="12.4" lengthAdjust="spacingAndGlyphs" text-anchor="middle" font-weight="bold">R361</text>
<path d="M763.00,183.50 C763.00,181.60 762.00,181.00 760.50,180.90 C759.50,180.00 756.70,180.00 755.70,180.90 L749.00,180.90 L749.00,180.00 L748.00,180.00 L748.00,187.00 L749.00,187.00 L749.00,186.10 L755.70,186.10 C756.70,187.00 759.50,187.00 760.50,186.10 C762.00,186.00 763.00,185.40 763.00,183.50 Z" fill="#ffc090" stroke="#000" stroke-width="0.7"/>
<rect x="751.2" y="182.4" width="3.6" height="2.4" fill="#000" opacity="0.35"/>
<text x="757.7" y="180.7" font-size="5.9" textLength="6.3" lengthAdjust="spacingAndGlyphs" text-anchor="middle" font-weight="bold">31</text>
<text x="757.0" y="193.6" font-size="5.9" textLength="12.4" lengthAdjust="spacingAndGlyphs" text-anchor="middle" font-weight="bold">R316</text>
<path d="M778.90,183.50 C778.90,181.60 777.90,181.00 776.40,180.90 C775.40,180.00 772.60,180.00 771.60,180.90 L766.10,180.90 L766.10,180.00 L765.10,180.00 L765.10,187.00 L766.10,187.00 L766.10,186.10 L771.60,186.10 C772.60,187.00 775.40,187.00 776.40,186.10 C777.90,186.00 778.90,185.40 778.90,183.50 Z" fill="#4040ff" stroke="#000" stroke-width="0.7"/>
<rect x="768.3000000000001" y="182.4" width="3.6" height="2.4" fill="#000" opacity="0.35"/>
<text x="774.8000000000001" y="180.7" font-size="5.9" textLength="6.3" lengthAdjust="spacingAndGlyphs" text-anchor="middle" font-weight="bold">44</text>
<text x="774.1" y="193.6" font-size="5.9" textLength="12.4" lengthAdjust="spacingAndGlyphs" text-anchor="middle" font-weight="bold">R361</text>
<path d="M795.90,183.50 C795.90,181.60 794.90,181.00 793.40,180.90 C792.40,180.00 789.60,180.00 788.60,180.90 L781.90,180.90 L781.90,180.00 L780.90,180.00 L780.90,187.00 L781.90,187.00 L781.90,186.10 L788.60,186.10 C789.60,187.00 792.40,187.00 793.40,186.10 C794.90,186.00 795.90,185.40 795.90,183.50 Z" fill="#ffc090" stroke="#000" stroke-width="0.7"/>
<rect x="784.1" y="182.4" width="3.6" height="2.4" fill="#000" opacity="0.35"/>
<text x="790.6" y="180.7" font-size="5.9" textLength="6.3" lengthAdjust="spacingAndGlyphs" text-anchor="middle" font-weight="bold">30</text>
<text x="789.9" y="193.6" font-size="5.9" textLength="12.4" lengthAdjust="spacingAndGlyphs" text-anchor="middle" font-weight="bold">R316</text>
<use href="#par" x="378.3" y="178.8" fill="#ff0033"/>
<rect x="380.90000000000003" y="182.0" width="3.2" height="2.2" fill="#000" opacity="0.35"/>
<text x="382.3" y="177.6" font-size="5.9" textLength="6.2" lengthAdjust="spacingAndGlyphs" text-anchor="middle" font-weight="bold">76</text>
<text x="382.3" y="193.79999999999998" font-size="5.9" textLength="9.8" lengthAdjust="spacingAndGlyphs" text-anchor="middle" font-weight="bold">R26</text>
<use href="#par" x="394.3" y="178.8" fill="#0000ff"/>
<rect x="396.90000000000003" y="182.0" width="3.2" height="2.2" fill="#000" opacity="0.35"/>
<text x="398.3" y="177.6" font-size="5.9" textLength="6.2" lengthAdjust="spacingAndGlyphs" text-anchor="middle" font-weight="bold">96</text>
<text x="398.3" y="193.79999999999998" font-size="5.9" textLength="9.8" lengthAdjust="spacingAndGlyphs" text-anchor="middle" font-weight="bold">R80</text>
<use href="#par" x="465.0" y="178.8" fill="#ff0033"/>
<rect x="467.6" y="182.0" width="3.2" height="2.2" fill="#000" opacity="0.35"/>
<text x="469.0" y="177.6" font-size="5.9" textLength="6.2" lengthAdjust="spacingAndGlyphs" text-anchor="middle" font-weight="bold">76</text>
<text x="469.0" y="193.79999999999998" font-size="5.9" textLength="9.8" lengthAdjust="spacingAndGlyphs" text-anchor="middle" font-weight="bold">R26</text>
<use href="#par" x="481.5" y="178.8" fill="#0000ff"/>
<rect x="484.1" y="182.0" width="3.2" height="2.2" fill="#000" opacity="0.35"/>
<text x="485.5" y="177.6" font-size="5.9" textLength="6.2" lengthAdjust="spacingAndGlyphs" text-anchor="middle" font-weight="bold">96</text>
<text x="485.5" y="193.79999999999998" font-size="5.9" textLength="9.8" lengthAdjust="spacingAndGlyphs" text-anchor="middle" font-weight="bold">R80</text>
<use href="#par" x="568.3" y="178.8" fill="#ff0033"/>
<rect x="570.9" y="182.0" width="3.2" height="2.2" fill="#000" opacity="0.35"/>
<text x="572.3" y="177.6" font-size="5.9" textLength="6.2" lengthAdjust="spacingAndGlyphs" text-anchor="middle" font-weight="bold">74</text>
<text x="572.3" y="193.79999999999998" font-size="5.9" textLength="9.8" lengthAdjust="spacingAndGlyphs" text-anchor="middle" font-weight="bold">R26</text>
<use href="#par" x="584.5" y="178.8" fill="#0000ff"/>
<rect x="587.1" y="182.0" width="3.2" height="2.2" fill="#000" opacity="0.35"/>
<text x="588.5" y="177.6" font-size="5.9" textLength="6.2" lengthAdjust="spacingAndGlyphs" text-anchor="middle" font-weight="bold">94</text>
<text x="588.5" y="193.79999999999998" font-size="5.9" textLength="9.8" lengthAdjust="spacingAndGlyphs" text-anchor="middle" font-weight="bold">R80</text>
<use href="#par" x="655.0" y="178.8" fill="#ff0033"/>
<rect x="657.6" y="182.0" width="3.2" height="2.2" fill="#000" opacity="0.35"/>
<text x="659.0" y="177.6" font-size="5.9" textLength="6.2" lengthAdjust="spacingAndGlyphs" text-anchor="middle" font-weight="bold">73</text>
<text x="659.0" y="193.79999999999998" font-size="5.9" textLength="9.8" lengthAdjust="spacingAndGlyphs" text-anchor="middle" font-weight="bold">R26</text>
<use href="#par" x="671.0" y="178.8" fill="#0000ff"/>
<rect x="673.6" y="182.0" width="3.2" height="2.2" fill="#000" opacity="0.35"/>
<text x="675.0" y="177.6" font-size="5.9" textLength="6.2" lengthAdjust="spacingAndGlyphs" text-anchor="middle" font-weight="bold">93</text>
<text x="675.0" y="193.79999999999998" font-size="5.9" textLength="9.8" lengthAdjust="spacingAndGlyphs" text-anchor="middle" font-weight="bold">R80</text>
<text x="203.9" y="278.7" font-size="8.2" textLength="36.8" lengthAdjust="spacingAndGlyphs" fill="#111">3rd Electric</text>
<line x1="256.3" y1="275.8" x2="801" y2="275.8" stroke="#111" stroke-width="1.6"/>
<path d="M262.70,276.10 C262.70,274.20 263.70,273.60 265.20,273.50 C266.20,272.60 269.00,272.60 270.00,273.50 L275.60,273.50 L275.60,272.60 L276.60,272.60 L276.60,279.60 L275.60,279.60 L275.60,278.70 L270.00,278.70 C269.00,279.60 266.20,279.60 265.20,278.70 C263.70,278.60 262.70,278.00 262.70,276.10 Z" fill="#ff99cc" stroke="#000" stroke-width="0.7"/>
<rect x="269.79999999999995" y="275.0" width="3.6" height="2.4" fill="#000" opacity="0.35"/>
<text x="264.9" y="273.3" font-size="5.9" textLength="6.3" lengthAdjust="spacingAndGlyphs" text-anchor="middle" font-weight="bold">37</text>
<text x="276.09999999999997" y="286.20000000000005" font-size="5.9" textLength="9.6" lengthAdjust="spacingAndGlyphs" text-anchor="middle" font-weight="bold">R36</text>
<path d="M277.90,276.10 C277.90,274.20 278.90,273.60 280.40,273.50 C281.40,272.60 284.20,272.60 285.20,273.50 L292.00,273.50 L292.00,272.60 L293.00,272.60 L293.00,279.60 L292.00,279.60 L292.00,278.70 L285.20,278.70 C284.20,279.60 281.40,279.60 280.40,278.70 C278.90,278.60 277.90,278.00 277.90,276.10 Z" fill="#0099cc" stroke="#000" stroke-width="0.7"/>
<rect x="286.2" y="275.0" width="3.6" height="2.4" fill="#000" opacity="0.35"/>
<text x="280.1" y="273.3" font-size="5.9" textLength="6.3" lengthAdjust="spacingAndGlyphs" text-anchor="middle" font-weight="bold">46</text>
<text x="291.3" y="286.20000000000005" font-size="5.9" textLength="9.6" lengthAdjust="spacingAndGlyphs" text-anchor="middle" font-weight="bold">R69</text>
<path d="M295.60,276.10 C295.60,274.20 296.60,273.60 298.10,273.50 C299.10,272.60 301.90,272.60 302.90,273.50 L308.50,273.50 L308.50,272.60 L309.50,272.60 L309.50,279.60 L308.50,279.60 L308.50,278.70 L302.90,278.70 C301.90,279.60 299.10,279.60 298.10,278.70 C296.60,278.60 295.60,278.00 295.60,276.10 Z" fill="#ff99cc" stroke="#000" stroke-width="0.7"/>
<rect x="302.7" y="275.0" width="3.6" height="2.4" fill="#000" opacity="0.35"/>
<text x="297.8" y="273.3" font-size="5.9" textLength="6.3" lengthAdjust="spacingAndGlyphs" text-anchor="middle" font-weight="bold">37</text>
<text x="309.0" y="286.20000000000005" font-size="5.9" textLength="9.6" lengthAdjust="spacingAndGlyphs" text-anchor="middle" font-weight="bold">R36</text>
<path d="M311.00,276.10 C311.00,274.20 312.00,273.60 313.50,273.50 C314.50,272.60 317.30,272.60 318.30,273.50 L325.10,273.50 L325.10,272.60 L326.10,272.60 L326.10,279.60 L325.10,279.60 L325.10,278.70 L318.30,278.70 C317.30,279.60 314.50,279.60 313.50,278.70 C312.00,278.60 311.00,278.00 311.00,276.10 Z" fill="#0099cc" stroke="#000" stroke-width="0.7"/>
<rect x="319.29999999999995" y="275.0" width="3.6" height="2.4" fill="#000" opacity="0.35"/>
<text x="313.2" y="273.3" font-size="5.9" textLength="6.3" lengthAdjust="spacingAndGlyphs" text-anchor="middle" font-weight="bold">45</text>
<text x="324.4" y="286.20000000000005" font-size="5.9" textLength="9.6" lengthAdjust="spacingAndGlyphs" text-anchor="middle" font-weight="bold">R69</text>
<path d="M328.30,276.10 C328.30,274.20 329.30,273.60 330.80,273.50 C331.80,272.60 334.60,272.60 335.60,273.50 L341.20,273.50 L341.20,272.60 L342.20,272.60 L342.20,279.60 L341.20,279.60 L341.20,278.70 L335.60,278.70 C334.60,279.60 331.80,279.60 330.80,278.70 C329.30,278.60 328.30,278.00 328.30,276.10 Z" fill="#ff99cc" stroke="#000" stroke-width="0.7"/>
<rect x="335.4" y="275.0" width="3.6" height="2.4" fill="#000" opacity="0.35"/>
<text x="330.5" y="273.3" font-size="5.9" textLength="6.3" lengthAdjust="spacingAndGlyphs" text-anchor="middle" font-weight="bold">37</text>
<text x="341.7" y="286.20000000000005" font-size="5.9" textLength="9.6" lengthAdjust="spacingAndGlyphs" text-anchor="middle" font-weight="bold">R36</text>
<path d="M343.70,276.10 C343.70,274.20 344.70,273.60 346.20,273.50 C347.20,272.60 350.00,272.60 351.00,273.50 L357.80,273.50 L357.80,272.60 L358.80,272.60 L358.80,279.60 L357.80,279.60 L357.80,278.70 L351.00,278.70 C350.00,279.60 347.20,279.60 346.20,278.70 C344.70,278.60 343.70,278.00 343.70,276.10 Z" fill="#0099cc" stroke="#000" stroke-width="0.7"/>
<rect x="351.99999999999994" y="275.0" width="3.6" height="2.4" fill="#000" opacity="0.35"/>
<text x="345.9" y="273.3" font-size="5.9" textLength="6.3" lengthAdjust="spacingAndGlyphs" text-anchor="middle" font-weight="bold">54</text>
<text x="357.09999999999997" y="286.20000000000005" font-size="5.9" textLength="9.6" lengthAdjust="spacingAndGlyphs" text-anchor="middle" font-weight="bold">R69</text>
<path d="M713.80,276.10 C713.80,274.20 712.80,273.60 711.30,273.50 C710.30,272.60 707.50,272.60 706.50,273.50 L701.00,273.50 L701.00,272.60 L700.00,272.60 L700.00,279.60 L701.00,279.60 L701.00,278.70 L706.50,278.70 C707.50,279.60 710.30,279.60 711.30,278.70 C712.80,278.60 713.80,278.00 713.80,276.10 Z" fill="#4040ff" stroke="#000" stroke-width="0.7"/>
<rect x="703.2" y="275.0" width="3.6" height="2.4" fill="#000" opacity="0.35"/>
<text x="709.7" y="273.3" font-size="5.9" textLength="6.3" lengthAdjust="spacingAndGlyphs" text-anchor="middle" font-weight="bold">43</text>
<text x="709.0" y="286.20000000000005" font-size="5.9" textLength="12.4" lengthAdjust="spacingAndGlyphs" text-anchor="middle" font-weight="bold">R361</text>
<path d="M730.50,276.10 C730.50,274.20 729.50,273.60 728.00,273.50 C727.00,272.60 724.20,272.60 723.20,273.50 L716.50,273.50 L716.50,272.60 L715.50,272.60 L715.50,279.60 L716.50,279.60 L716.50,278.70 L723.20,278.70 C724.20,279.60 727.00,279.60 728.00,278.70 C729.50,278.60 730.50,278.00 730.50,276.10 Z" fill="#ffc090" stroke="#000" stroke-width="0.7"/>
<rect x="718.7" y="275.0" width="3.6" height="2.4" fill="#000" opacity="0.35"/>
<text x="725.2" y="273.3" font-size="5.9" textLength="6.3" lengthAdjust="spacingAndGlyphs" text-anchor="middle" font-weight="bold">29</text>
<text x="724.5" y="286.20000000000005" font-size="5.9" textLength="12.4" lengthAdjust="spacingAndGlyphs" text-anchor="middle" font-weight="bold">R316</text>
<path d="M746.20,276.10 C746.20,274.20 745.20,273.60 743.70,273.50 C742.70,272.60 739.90,272.60 738.90,273.50 L733.40,273.50 L733.40,272.60 L732.40,272.60 L732.40,279.60 L733.40,279.60 L733.40,278.70 L738.90,278.70 C739.90,279.60 742.70,279.60 743.70,278.70 C745.20,278.60 746.20,278.00 746.20,276.10 Z" fill="#4040ff" stroke="#000" stroke-width="0.7"/>
<rect x="735.6" y="275.0" width="3.6" height="2.4" fill="#000" opacity="0.35"/>
<text x="742.1" y="273.3" font-size="5.9" textLength="6.3" lengthAdjust="spacingAndGlyphs" text-anchor="middle" font-weight="bold">43</text>
<text x="741.4" y="286.20000000000005" font-size="5.9" textLength="12.4" lengthAdjust="spacingAndGlyphs" text-anchor="middle" font-weight="bold">R361</text>
<path d="M763.00,276.10 C763.00,274.20 762.00,273.60 760.50,273.50 C759.50,272.60 756.70,272.60 755.70,273.50 L749.00,273.50 L749.00,272.60 L748.00,272.60 L748.00,279.60 L749.00,279.60 L749.00,278.70 L755.70,278.70 C756.70,279.60 759.50,279.60 760.50,278.70 C762.00,278.60 763.00,278.00 763.00,276.10 Z" fill="#ffc090" stroke="#000" stroke-width="0.7"/>
<rect x="751.2" y="275.0" width="3.6" height="2.4" fill="#000" opacity="0.35"/>
<text x="757.7" y="273.3" font-size="5.9" textLength="6.3" lengthAdjust="spacingAndGlyphs" text-anchor="middle" font-weight="bold">28</text>
<text x="757.0" y="286.20000000000005" font-size="5.9" textLength="12.4" lengthAdjust="spacingAndGlyphs" text-anchor="middle" font-weight="bold">R316</text>
<path d="M778.90,276.10 C778.90,274.20 777.90,273.60 776.40,273.50 C775.40,272.60 772.60,272.60 771.60,273.50 L766.10,273.50 L766.10,272.60 L765.10,272.60 L765.10,279.60 L766.10,279.60 L766.10,278.70 L771.60,278.70 C772.60,279.60 775.40,279.60 776.40,278.70 C777.90,278.60 778.90,278.00 778.90,276.10 Z" fill="#4040ff" stroke="#000" stroke-width="0.7"/>
<rect x="768.3000000000001" y="275.0" width="3.6" height="2.4" fill="#000" opacity="0.35"/>
<text x="774.8000000000001" y="273.3" font-size="5.9" textLength="6.3" lengthAdjust="spacingAndGlyphs" text-anchor="middle" font-weight="bold">43</text>
<path d="M795.90,276.10 C795.90,274.20 794.90,273.60 793.40,273.50 C792.40,272.60 789.60,272.60 788.60,273.50 L781.90,273.50 L781.90,272.60 L780.90,272.60 L780.90,279.60 L781.90,279.60 L781.90,278.70 L788.60,278.70 C789.60,279.60 792.40,279.60 793.40,278.70 C794.90,278.60 795.90,278.00 795.90,276.10 Z" fill="#ffc090" stroke="#000" stroke-width="0.7"/>
<rect x="784.1" y="275.0" width="3.6" height="2.4" fill="#000" opacity="0.35"/>
<text x="790.6" y="273.3" font-size="5.9" textLength="6.3" lengthAdjust="spacingAndGlyphs" text-anchor="middle" font-weight="bold">27</text>
<text x="774" y="266.2" font-size="5.9" textLength="12.4" lengthAdjust="spacingAndGlyphs" text-anchor="middle" font-weight="bold">R361</text>
<text x="790" y="266.2" font-size="5.9" textLength="12.4" lengthAdjust="spacingAndGlyphs" text-anchor="middle" font-weight="bold">R316</text>
<use href="#par" x="378.3" y="271.4" fill="#ff0033"/>
<rect x="380.90000000000003" y="274.6" width="3.2" height="2.2" fill="#000" opacity="0.35"/>
<text x="382.3" y="270.2" font-size="5.9" textLength="6.2" lengthAdjust="spacingAndGlyphs" text-anchor="middle" font-weight="bold">72</text>
<text x="382.3" y="286.40000000000003" font-size="5.9" textLength="9.8" lengthAdjust="spacingAndGlyphs" text-anchor="middle" font-weight="bold">R26</text>
<use href="#par" x="394.3" y="271.4" fill="#0000ff"/>
<rect x="396.90000000000003" y="274.6" width="3.2" height="2.2" fill="#000" opacity="0.35"/>
<text x="398.3" y="270.2" font-size="5.9" textLength="6.2" lengthAdjust="spacingAndGlyphs" text-anchor="middle" font-weight="bold">92</text>
<text x="398.3" y="286.40000000000003" font-size="5.9" textLength="9.8" lengthAdjust="spacingAndGlyphs" text-anchor="middle" font-weight="bold">R80</text>
<use href="#par" x="465.0" y="271.4" fill="#ff0033"/>
<rect x="467.6" y="274.6" width="3.2" height="2.2" fill="#000" opacity="0.35"/>
<text x="469.0" y="270.2" font-size="5.9" textLength="6.2" lengthAdjust="spacingAndGlyphs" text-anchor="middle" font-weight="bold">71</text>
<text x="469.0" y="286.40000000000003" font-size="5.9" textLength="9.8" lengthAdjust="spacingAndGlyphs" text-anchor="middle" font-weight="bold">R26</text>
<use href="#par" x="481.5" y="271.4" fill="#0000ff"/>
<rect x="484.1" y="274.6" width="3.2" height="2.2" fill="#000" opacity="0.35"/>
<text x="485.5" y="270.2" font-size="5.9" textLength="6.2" lengthAdjust="spacingAndGlyphs" text-anchor="middle" font-weight="bold">91</text>
<text x="485.5" y="286.40000000000003" font-size="5.9" textLength="9.8" lengthAdjust="spacingAndGlyphs" text-anchor="middle" font-weight="bold">R80</text>
<use href="#par" x="568.3" y="271.4" fill="#ff0033"/>
<rect x="570.9" y="274.6" width="3.2" height="2.2" fill="#000" opacity="0.35"/>
<text x="572.3" y="270.2" font-size="5.9" textLength="6.2" lengthAdjust="spacingAndGlyphs" text-anchor="middle" font-weight="bold">70</text>
<text x="572.3" y="286.40000000000003" font-size="5.9" textLength="9.8" lengthAdjust="spacingAndGlyphs" text-anchor="middle" font-weight="bold">R26</text>
<use href="#par" x="584.5" y="271.4" fill="#0000ff"/>
<rect x="587.1" y="274.6" width="3.2" height="2.2" fill="#000" opacity="0.35"/>
<text x="588.5" y="270.2" font-size="5.9" textLength="6.2" lengthAdjust="spacingAndGlyphs" text-anchor="middle" font-weight="bold">90</text>
<text x="588.5" y="286.40000000000003" font-size="5.9" textLength="9.8" lengthAdjust="spacingAndGlyphs" text-anchor="middle" font-weight="bold">R80</text>
<use href="#par" x="655.0" y="271.4" fill="#ff0033"/>
<rect x="657.6" y="274.6" width="3.2" height="2.2" fill="#000" opacity="0.35"/>
<text x="659.0" y="270.2" font-size="5.9" textLength="6.2" lengthAdjust="spacingAndGlyphs" text-anchor="middle" font-weight="bold">69</text>
<text x="659.0" y="286.40000000000003" font-size="5.9" textLength="9.8" lengthAdjust="spacingAndGlyphs" text-anchor="middle" font-weight="bold">R26</text>
<use href="#par" x="671.0" y="271.4" fill="#0000ff"/>
<rect x="673.6" y="274.6" width="3.2" height="2.2" fill="#000" opacity="0.35"/>
<text x="675.0" y="270.2" font-size="5.9" textLength="6.2" lengthAdjust="spacingAndGlyphs" text-anchor="middle" font-weight="bold">89</text>
<text x="675.0" y="286.40000000000003" font-size="5.9" textLength="9.8" lengthAdjust="spacingAndGlyphs" text-anchor="middle" font-weight="bold">R80</text>
<use href="#wv" x="428.0" y="269.9"/>
<text x="431.5" y="268.3" font-size="5.9" textLength="9" lengthAdjust="spacingAndGlyphs" text-anchor="middle" font-weight="bold">109</text>
<use href="#wv" x="526.0" y="269.9"/>
<text x="529.5" y="268.3" font-size="5.9" textLength="9" lengthAdjust="spacingAndGlyphs" text-anchor="middle" font-weight="bold">108</text>
<use href="#wv" x="623.2" y="269.9"/>
<text x="626.7" y="268.3" font-size="5.9" textLength="9" lengthAdjust="spacingAndGlyphs" text-anchor="middle" font-weight="bold">107</text>
<text x="202.9" y="367" font-size="8.2" textLength="38.5" lengthAdjust="spacingAndGlyphs" fill="#111">2nd Electric</text>
<line x1="256.6" y1="362.6" x2="801" y2="362.6" stroke="#111" stroke-width="1.6"/>
<path d="M262.70,362.90 C262.70,361.00 263.70,360.40 265.20,360.30 C266.20,359.40 269.00,359.40 270.00,360.30 L275.60,360.30 L275.60,359.40 L276.60,359.40 L276.60,366.40 L275.60,366.40 L275.60,365.50 L270.00,365.50 C269.00,366.40 266.20,366.40 265.20,365.50 C263.70,365.40 262.70,364.80 262.70,362.90 Z" fill="#ff99cc" stroke="#000" stroke-width="0.7"/>
<rect x="269.79999999999995" y="361.79999999999995" width="3.6" height="2.4" fill="#000" opacity="0.35"/>
<text x="276.09999999999997" y="373.0" font-size="5.9" textLength="9.6" lengthAdjust="spacingAndGlyphs" text-anchor="middle" font-weight="bold">R36</text>
<path d="M277.90,362.90 C277.90,361.00 278.90,360.40 280.40,360.30 C281.40,359.40 284.20,359.40 285.20,360.30 L292.00,360.30 L292.00,359.40 L293.00,359.40 L293.00,366.40 L292.00,366.40 L292.00,365.50 L285.20,365.50 C284.20,366.40 281.40,366.40 280.40,365.50 C278.90,365.40 277.90,364.80 277.90,362.90 Z" fill="#0099cc" stroke="#000" stroke-width="0.7"/>
<rect x="286.2" y="361.79999999999995" width="3.6" height="2.4" fill="#000" opacity="0.35"/>
<text x="291.3" y="373.0" font-size="5.9" textLength="9.6" lengthAdjust="spacingAndGlyphs" text-anchor="middle" font-weight="bold">R20</text>
<path d="M295.60,362.90 C295.60,361.00 296.60,360.40 298.10,360.30 C299.10,359.40 301.90,359.40 302.90,360.30 L308.50,360.30 L308.50,359.40 L309.50,359.40 L309.50,366.40 L308.50,366.40 L308.50,365.50 L302.90,365.50 C301.90,366.40 299.10,366.40 298.10,365.50 C296.60,365.40 295.60,364.80 295.60,362.90 Z" fill="#ff99cc" stroke="#000" stroke-width="0.7"/>
<rect x="302.7" y="361.79999999999995" width="3.6" height="2.4" fill="#000" opacity="0.35"/>
<text x="309.0" y="373.0" font-size="5.9" textLength="9.6" lengthAdjust="spacingAndGlyphs" text-anchor="middle" font-weight="bold">R36</text>
<path d="M311.00,362.90 C311.00,361.00 312.00,360.40 313.50,360.30 C314.50,359.40 317.30,359.40 318.30,360.30 L325.10,360.30 L325.10,359.40 L326.10,359.40 L326.10,366.40 L325.10,366.40 L325.10,365.50 L318.30,365.50 C317.30,366.40 314.50,366.40 313.50,365.50 C312.00,365.40 311.00,364.80 311.00,362.90 Z" fill="#0099cc" stroke="#000" stroke-width="0.7"/>
<rect x="319.29999999999995" y="361.79999999999995" width="3.6" height="2.4" fill="#000" opacity="0.35"/>
<text x="313.2" y="360.09999999999997" font-size="5.9" textLength="6.3" lengthAdjust="spacingAndGlyphs" text-anchor="middle" font-weight="bold">52</text>
<text x="324.4" y="373.0" font-size="5.9" textLength="9.6" lengthAdjust="spacingAndGlyphs" text-anchor="middle" font-weight="bold">R20</text>
<path d="M328.30,362.90 C328.30,361.00 329.30,360.40 330.80,360.30 C331.80,359.40 334.60,359.40 335.60,360.30 L341.20,360.30 L341.20,359.40 L342.20,359.40 L342.20,366.40 L341.20,366.40 L341.20,365.50 L335.60,365.50 C334.60,366.40 331.80,366.40 330.80,365.50 C329.30,365.40 328.30,364.80 328.30,362.90 Z" fill="#ff99cc" stroke="#000" stroke-width="0.7"/>
<rect x="335.4" y="361.79999999999995" width="3.6" height="2.4" fill="#000" opacity="0.35"/>
<text x="330.5" y="360.09999999999997" font-size="5.9" textLength="6.3" lengthAdjust="spacingAndGlyphs" text-anchor="middle" font-weight="bold">36</text>
<text x="341.7" y="373.0" font-size="5.9" textLength="9.6" lengthAdjust="spacingAndGlyphs" text-anchor="middle" font-weight="bold">R36</text>
<path d="M343.70,362.90 C343.70,361.00 344.70,360.40 346.20,360.30 C347.20,359.40 350.00,359.40 351.00,360.30 L357.80,360.30 L357.80,359.40 L358.80,359.40 L358.80,366.40 L357.80,366.40 L357.80,365.50 L351.00,365.50 C350.00,366.40 347.20,366.40 346.20,365.50 C344.70,365.40 343.70,364.80 343.70,362.90 Z" fill="#0099cc" stroke="#000" stroke-width="0.7"/>
<rect x="351.99999999999994" y="361.79999999999995" width="3.6" height="2.4" fill="#000" opacity="0.35"/>
<text x="345.9" y="360.09999999999997" font-size="5.9" textLength="6.3" lengthAdjust="spacingAndGlyphs" text-anchor="middle" font-weight="bold">51</text>
<text x="357.09999999999997" y="373.0" font-size="5.9" textLength="9.6" lengthAdjust="spacingAndGlyphs" text-anchor="middle" font-weight="bold">R20</text>
<path d="M713.80,362.90 C713.80,361.00 712.80,360.40 711.30,360.30 C710.30,359.40 707.50,359.40 706.50,360.30 L701.00,360.30 L701.00,359.40 L700.00,359.40 L700.00,366.40 L701.00,366.40 L701.00,365.50 L706.50,365.50 C707.50,366.40 710.30,366.40 711.30,365.50 C712.80,365.40 713.80,364.80 713.80,362.90 Z" fill="#4040ff" stroke="#000" stroke-width="0.7"/>
<rect x="703.2" y="361.79999999999995" width="3.6" height="2.4" fill="#000" opacity="0.35"/>
<text x="709.7" y="360.09999999999997" font-size="5.9" textLength="6.3" lengthAdjust="spacingAndGlyphs" text-anchor="middle" font-weight="bold">42</text>
<text x="709.0" y="373.0" font-size="5.9" textLength="12.4" lengthAdjust="spacingAndGlyphs" text-anchor="middle" font-weight="bold">R361</text>
<path d="M730.50,362.90 C730.50,361.00 729.50,360.40 728.00,360.30 C727.00,359.40 724.20,359.40 723.20,360.30 L716.50,360.30 L716.50,359.40 L715.50,359.40 L715.50,366.40 L716.50,366.40 L716.50,365.50 L723.20,365.50 C724.20,366.40 727.00,366.40 728.00,365.50 C729.50,365.40 730.50,364.80 730.50,362.90 Z" fill="#ffc090" stroke="#000" stroke-width="0.7"/>
<rect x="718.7" y="361.79999999999995" width="3.6" height="2.4" fill="#000" opacity="0.35"/>
<text x="725.2" y="360.09999999999997" font-size="5.9" textLength="6.3" lengthAdjust="spacingAndGlyphs" text-anchor="middle" font-weight="bold">26</text>
<text x="724.5" y="373.0" font-size="5.9" textLength="12.4" lengthAdjust="spacingAndGlyphs" text-anchor="middle" font-weight="bold">R316</text>
<path d="M746.20,362.90 C746.20,361.00 745.20,360.40 743.70,360.30 C742.70,359.40 739.90,359.40 738.90,360.30 L733.40,360.30 L733.40,359.40 L732.40,359.40 L732.40,366.40 L733.40,366.40 L733.40,365.50 L738.90,365.50 C739.90,366.40 742.70,366.40 743.70,365.50 C745.20,365.40 746.20,364.80 746.20,362.90 Z" fill="#4040ff" stroke="#000" stroke-width="0.7"/>
<rect x="735.6" y="361.79999999999995" width="3.6" height="2.4" fill="#000" opacity="0.35"/>
<text x="742.1" y="360.09999999999997" font-size="5.9" textLength="6.3" lengthAdjust="spacingAndGlyphs" text-anchor="middle" font-weight="bold">42</text>
<text x="741.4" y="373.0" font-size="5.9" textLength="12.4" lengthAdjust="spacingAndGlyphs" text-anchor="middle" font-weight="bold">R361</text>
<path d="M763.00,362.90 C763.00,361.00 762.00,360.40 760.50,360.30 C759.50,359.40 756.70,359.40 755.70,360.30 L749.00,360.30 L749.00,359.40 L748.00,359.40 L748.00,366.40 L749.00,366.40 L749.00,365.50 L755.70,365.50 C756.70,366.40 759.50,366.40 760.50,365.50 C762.00,365.40 763.00,364.80 763.00,362.90 Z" fill="#ffc090" stroke="#000" stroke-width="0.7"/>
<rect x="751.2" y="361.79999999999995" width="3.6" height="2.4" fill="#000" opacity="0.35"/>
<text x="757.7" y="360.09999999999997" font-size="5.9" textLength="6.3" lengthAdjust="spacingAndGlyphs" text-anchor="middle" font-weight="bold">26</text>
<text x="757.0" y="373.0" font-size="5.9" textLength="12.4" lengthAdjust="spacingAndGlyphs" text-anchor="middle" font-weight="bold">R316</text>
<path d="M778.90,362.90 C778.90,361.00 777.90,360.40 776.40,360.30 C775.40,359.40 772.60,359.40 771.60,360.30 L766.10,360.30 L766.10,359.40 L765.10,359.40 L765.10,366.40 L766.10,366.40 L766.10,365.50 L771.60,365.50 C772.60,366.40 775.40,366.40 776.40,365.50 C777.90,365.40 778.90,364.80 778.90,362.90 Z" fill="#4040ff" stroke="#000" stroke-width="0.7"/>
<rect x="768.3000000000001" y="361.79999999999995" width="3.6" height="2.4" fill="#000" opacity="0.35"/>
<text x="774.1" y="373.0" font-size="5.9" textLength="12.4" lengthAdjust="spacingAndGlyphs" text-anchor="middle" font-weight="bold">R361</text>
<path d="M795.90,362.90 C795.90,361.00 794.90,360.40 793.40,360.30 C792.40,359.40 789.60,359.40 788.60,360.30 L781.90,360.30 L781.90,359.40 L780.90,359.40 L780.90,366.40 L781.90,366.40 L781.90,365.50 L788.60,365.50 C789.60,366.40 792.40,366.40 793.40,365.50 C794.90,365.40 795.90,364.80 795.90,362.90 Z" fill="#ffc090" stroke="#000" stroke-width="0.7"/>
<rect x="784.1" y="361.79999999999995" width="3.6" height="2.4" fill="#000" opacity="0.35"/>
<text x="790.6" y="360.09999999999997" font-size="5.9" textLength="6.3" lengthAdjust="spacingAndGlyphs" text-anchor="middle" font-weight="bold">24</text>
<text x="789.9" y="373.0" font-size="5.9" textLength="12.4" lengthAdjust="spacingAndGlyphs" text-anchor="middle" font-weight="bold">R316</text>
<text x="270.2" y="359.2" font-size="5.9" textLength="6.3" lengthAdjust="spacingAndGlyphs" text-anchor="middle" font-weight="bold">36</text>
<text x="284.9" y="377.6" font-size="5.9" textLength="6.3" lengthAdjust="spacingAndGlyphs" text-anchor="middle" font-weight="bold">53</text>
<text x="302.5" y="377.6" font-size="5.9" textLength="6.3" lengthAdjust="spacingAndGlyphs" text-anchor="middle" font-weight="bold">36</text>
<text x="776.2" y="380.7" font-size="5.9" textLength="6.3" lengthAdjust="spacingAndGlyphs" text-anchor="middle" font-weight="bold">42</text>
<use href="#par" x="378.3" y="358.2" fill="#ff0033"/>
<rect x="380.90000000000003" y="361.40000000000003" width="3.2" height="2.2" fill="#000" opacity="0.35"/>
<text x="382.3" y="357.0" font-size="5.9" textLength="6.2" lengthAdjust="spacingAndGlyphs" text-anchor="middle" font-weight="bold">68</text>
<text x="382.3" y="373.20000000000005" font-size="5.9" textLength="9.8" lengthAdjust="spacingAndGlyphs" text-anchor="middle" font-weight="bold">R26</text>
<use href="#par" x="394.3" y="358.2" fill="#0000ff"/>
<rect x="396.90000000000003" y="361.40000000000003" width="3.2" height="2.2" fill="#000" opacity="0.35"/>
<text x="398.3" y="357.0" font-size="5.9" textLength="6.2" lengthAdjust="spacingAndGlyphs" text-anchor="middle" font-weight="bold">88</text>
<text x="398.3" y="373.20000000000005" font-size="5.9" textLength="9.8" lengthAdjust="spacingAndGlyphs" text-anchor="middle" font-weight="bold">R80</text>
<use href="#par" x="465.0" y="358.2" fill="#ff0033"/>
<rect x="467.6" y="361.40000000000003" width="3.2" height="2.2" fill="#000" opacity="0.35"/>
<text x="469.0" y="357.0" font-size="5.9" textLength="6.2" lengthAdjust="spacingAndGlyphs" text-anchor="middle" font-weight="bold">67</text>
<text x="469.0" y="373.20000000000005" font-size="5.9" textLength="9.8" lengthAdjust="spacingAndGlyphs" text-anchor="middle" font-weight="bold">R26</text>
<use href="#par" x="481.5" y="358.2" fill="#0000ff"/>
<rect x="484.1" y="361.40000000000003" width="3.2" height="2.2" fill="#000" opacity="0.35"/>
<text x="485.5" y="357.0" font-size="5.9" textLength="6.2" lengthAdjust="spacingAndGlyphs" text-anchor="middle" font-weight="bold">87</text>
<text x="485.5" y="373.20000000000005" font-size="5.9" textLength="9.8" lengthAdjust="spacingAndGlyphs" text-anchor="middle" font-weight="bold">R80</text>
<use href="#par" x="568.3" y="358.2" fill="#ff0033"/>
<rect x="570.9" y="361.40000000000003" width="3.2" height="2.2" fill="#000" opacity="0.35"/>
<text x="572.3" y="357.0" font-size="5.9" textLength="6.2" lengthAdjust="spacingAndGlyphs" text-anchor="middle" font-weight="bold">66</text>
<text x="572.3" y="373.20000000000005" font-size="5.9" textLength="9.8" lengthAdjust="spacingAndGlyphs" text-anchor="middle" font-weight="bold">R26</text>
<use href="#par" x="584.5" y="358.2" fill="#0000ff"/>
<rect x="587.1" y="361.40000000000003" width="3.2" height="2.2" fill="#000" opacity="0.35"/>
<text x="588.5" y="357.0" font-size="5.9" textLength="6.2" lengthAdjust="spacingAndGlyphs" text-anchor="middle" font-weight="bold">86</text>
<text x="588.5" y="373.20000000000005" font-size="5.9" textLength="9.8" lengthAdjust="spacingAndGlyphs" text-anchor="middle" font-weight="bold">R80</text>
<use href="#par" x="655.0" y="358.2" fill="#ff0033"/>
<rect x="657.6" y="361.40000000000003" width="3.2" height="2.2" fill="#000" opacity="0.35"/>
<text x="659.0" y="357.0" font-size="5.9" textLength="6.2" lengthAdjust="spacingAndGlyphs" text-anchor="middle" font-weight="bold">65</text>
<text x="659.0" y="373.20000000000005" font-size="5.9" textLength="9.8" lengthAdjust="spacingAndGlyphs" text-anchor="middle" font-weight="bold">R26</text>
<use href="#par" x="671.0" y="358.2" fill="#0000ff"/>
<rect x="673.6" y="361.40000000000003" width="3.2" height="2.2" fill="#000" opacity="0.35"/>
<text x="675.0" y="357.0" font-size="5.9" textLength="6.2" lengthAdjust="spacingAndGlyphs" text-anchor="middle" font-weight="bold">85</text>
<text x="675.0" y="373.20000000000005" font-size="5.9" textLength="9.8" lengthAdjust="spacingAndGlyphs" text-anchor="middle" font-weight="bold">R80</text>
<use href="#wv" x="428.0" y="356.7"/>
<text x="431.5" y="355.1" font-size="5.9" textLength="9" lengthAdjust="spacingAndGlyphs" text-anchor="middle" font-weight="bold">106</text>
<use href="#wv" x="526.0" y="356.7"/>
<text x="529.5" y="355.1" font-size="5.9" textLength="9" lengthAdjust="spacingAndGlyphs" text-anchor="middle" font-weight="bold">105</text>
<use href="#wv" x="623.2" y="356.7"/>
<text x="626.7" y="355.1" font-size="5.9" textLength="9" lengthAdjust="spacingAndGlyphs" text-anchor="middle" font-weight="bold">104</text>
<text x="203.8" y="414.3" font-size="8.2" textLength="36.2" lengthAdjust="spacingAndGlyphs" fill="#111">1st Electric</text>
<line x1="256.6" y1="411.6" x2="801" y2="411.6" stroke="#111" stroke-width="1.6"/>
<path d="M262.70,411.90 C262.70,410.00 263.70,409.40 265.20,409.30 C266.20,408.40 269.00,408.40 270.00,409.30 L275.60,409.30 L275.60,408.40 L276.60,408.40 L276.60,415.40 L275.60,415.40 L275.60,414.50 L270.00,414.50 C269.00,415.40 266.20,415.40 265.20,414.50 C263.70,414.40 262.70,413.80 262.70,411.90 Z" fill="#ff99cc" stroke="#000" stroke-width="0.7"/>
<rect x="269.79999999999995" y="410.79999999999995" width="3.6" height="2.4" fill="#000" opacity="0.35"/>
<text x="264.9" y="409.09999999999997" font-size="5.9" textLength="6.3" lengthAdjust="spacingAndGlyphs" text-anchor="middle" font-weight="bold">35</text>
<text x="276.09999999999997" y="422.0" font-size="5.9" textLength="9.6" lengthAdjust="spacingAndGlyphs" text-anchor="middle" font-weight="bold">R36</text>
<path d="M277.90,411.90 C277.90,410.00 278.90,409.40 280.40,409.30 C281.40,408.40 284.20,408.40 285.20,409.30 L292.00,409.30 L292.00,408.40 L293.00,408.40 L293.00,415.40 L292.00,415.40 L292.00,414.50 L285.20,414.50 C284.20,415.40 281.40,415.40 280.40,414.50 C278.90,414.40 277.90,413.80 277.90,411.90 Z" fill="#0099cc" stroke="#000" stroke-width="0.7"/>
<rect x="286.2" y="410.79999999999995" width="3.6" height="2.4" fill="#000" opacity="0.35"/>
<text x="280.1" y="409.09999999999997" font-size="5.9" textLength="6.3" lengthAdjust="spacingAndGlyphs" text-anchor="middle" font-weight="bold">50</text>
<text x="291.3" y="422.0" font-size="5.9" textLength="9.6" lengthAdjust="spacingAndGlyphs" text-anchor="middle" font-weight="bold">R69</text>
<path d="M295.60,411.90 C295.60,410.00 296.60,409.40 298.10,409.30 C299.10,408.40 301.90,408.40 302.90,409.30 L308.50,409.30 L308.50,408.40 L309.50,408.40 L309.50,415.40 L308.50,415.40 L308.50,414.50 L302.90,414.50 C301.90,415.40 299.10,415.40 298.10,414.50 C296.60,414.40 295.60,413.80 295.60,411.90 Z" fill="#ff99cc" stroke="#000" stroke-width="0.7"/>
<rect x="302.7" y="410.79999999999995" width="3.6" height="2.4" fill="#000" opacity="0.35"/>
<text x="297.8" y="409.09999999999997" font-size="5.9" textLength="6.3" lengthAdjust="spacingAndGlyphs" text-anchor="middle" font-weight="bold">35</text>
<text x="309.0" y="422.0" font-size="5.9" textLength="9.6" lengthAdjust="spacingAndGlyphs" text-anchor="middle" font-weight="bold">R36</text>
<path d="M311.00,411.90 C311.00,410.00 312.00,409.40 313.50,409.30 C314.50,408.40 317.30,408.40 318.30,409.30 L325.10,409.30 L325.10,408.40 L326.10,408.40 L326.10,415.40 L325.10,415.40 L325.10,414.50 L318.30,414.50 C317.30,415.40 314.50,415.40 313.50,414.50 C312.00,414.40 311.00,413.80 311.00,411.90 Z" fill="#0099cc" stroke="#000" stroke-width="0.7"/>
<rect x="319.29999999999995" y="410.79999999999995" width="3.6" height="2.4" fill="#000" opacity="0.35"/>
<text x="313.2" y="409.09999999999997" font-size="5.9" textLength="6.3" lengthAdjust="spacingAndGlyphs" text-anchor="middle" font-weight="bold">49</text>
<text x="324.4" y="422.0" font-size="5.9" textLength="9.6" lengthAdjust="spacingAndGlyphs" text-anchor="middle" font-weight="bold">R69</text>
<path d="M328.30,411.90 C328.30,410.00 329.30,409.40 330.80,409.30 C331.80,408.40 334.60,408.40 335.60,409.30 L341.20,409.30 L341.20,408.40 L342.20,408.40 L342.20,415.40 L341.20,415.40 L341.20,414.50 L335.60,414.50 C334.60,415.40 331.80,415.40 330.80,414.50 C329.30,414.40 328.30,413.80 328.30,411.90 Z" fill="#ff99cc" stroke="#000" stroke-width="0.7"/>
<rect x="335.4" y="410.79999999999995" width="3.6" height="2.4" fill="#000" opacity="0.35"/>
<text x="330.5" y="409.09999999999997" font-size="5.9" textLength="6.3" lengthAdjust="spacingAndGlyphs" text-anchor="middle" font-weight="bold">35</text>
<text x="341.7" y="422.0" font-size="5.9" textLength="9.6" lengthAdjust="spacingAndGlyphs" text-anchor="middle" font-weight="bold">R36</text>
<path d="M343.70,411.90 C343.70,410.00 344.70,409.40 346.20,409.30 C347.20,408.40 350.00,408.40 351.00,409.30 L357.80,409.30 L357.80,408.40 L358.80,408.40 L358.80,415.40 L357.80,415.40 L357.80,414.50 L351.00,414.50 C350.00,415.40 347.20,415.40 346.20,414.50 C344.70,414.40 343.70,413.80 343.70,411.90 Z" fill="#0099cc" stroke="#000" stroke-width="0.7"/>
<rect x="351.99999999999994" y="410.79999999999995" width="3.6" height="2.4" fill="#000" opacity="0.35"/>
<text x="345.9" y="409.09999999999997" font-size="5.9" textLength="6.3" lengthAdjust="spacingAndGlyphs" text-anchor="middle" font-weight="bold">48</text>
<text x="357.09999999999997" y="422.0" font-size="5.9" textLength="9.6" lengthAdjust="spacingAndGlyphs" text-anchor="middle" font-weight="bold">R69</text>
<path d="M713.80,411.90 C713.80,410.00 712.80,409.40 711.30,409.30 C710.30,408.40 707.50,408.40 706.50,409.30 L701.00,409.30 L701.00,408.40 L700.00,408.40 L700.00,415.40 L701.00,415.40 L701.00,414.50 L706.50,414.50 C707.50,415.40 710.30,415.40 711.30,414.50 C712.80,414.40 713.80,413.80 713.80,411.90 Z" fill="#4040ff" stroke="#000" stroke-width="0.7"/>
<rect x="703.2" y="410.79999999999995" width="3.6" height="2.4" fill="#000" opacity="0.35"/>
<text x="709.7" y="409.09999999999997" font-size="5.9" textLength="6.3" lengthAdjust="spacingAndGlyphs" text-anchor="middle" font-weight="bold">41</text>
<text x="709.0" y="422.0" font-size="5.9" textLength="12.4" lengthAdjust="spacingAndGlyphs" text-anchor="middle" font-weight="bold">R361</text>
<path d="M730.50,411.90 C730.50,410.00 729.50,409.40 728.00,409.30 C727.00,408.40 724.20,408.40 723.20,409.30 L716.50,409.30 L716.50,408.40 L715.50,408.40 L715.50,415.40 L716.50,415.40 L716.50,414.50 L723.20,414.50 C724.20,415.40 727.00,415.40 728.00,414.50 C729.50,414.40 730.50,413.80 730.50,411.90 Z" fill="#ffc090" stroke="#000" stroke-width="0.7"/>
<rect x="718.7" y="410.79999999999995" width="3.6" height="2.4" fill="#000" opacity="0.35"/>
<text x="725.2" y="409.09999999999997" font-size="5.9" textLength="6.3" lengthAdjust="spacingAndGlyphs" text-anchor="middle" font-weight="bold">23</text>
<text x="724.5" y="422.0" font-size="5.9" textLength="12.4" lengthAdjust="spacingAndGlyphs" text-anchor="middle" font-weight="bold">R316</text>
<path d="M746.20,411.90 C746.20,410.00 745.20,409.40 743.70,409.30 C742.70,408.40 739.90,408.40 738.90,409.30 L733.40,409.30 L733.40,408.40 L732.40,408.40 L732.40,415.40 L733.40,415.40 L733.40,414.50 L738.90,414.50 C739.90,415.40 742.70,415.40 743.70,414.50 C745.20,414.40 746.20,413.80 746.20,411.90 Z" fill="#4040ff" stroke="#000" stroke-width="0.7"/>
<rect x="735.6" y="410.79999999999995" width="3.6" height="2.4" fill="#000" opacity="0.35"/>
<text x="742.1" y="409.09999999999997" font-size="5.9" textLength="6.3" lengthAdjust="spacingAndGlyphs" text-anchor="middle" font-weight="bold">41</text>
<text x="741.4" y="422.0" font-size="5.9" textLength="12.4" lengthAdjust="spacingAndGlyphs" text-anchor="middle" font-weight="bold">R361</text>
<path d="M763.00,411.90 C763.00,410.00 762.00,409.40 760.50,409.30 C759.50,408.40 756.70,408.40 755.70,409.30 L749.00,409.30 L749.00,408.40 L748.00,408.40 L748.00,415.40 L749.00,415.40 L749.00,414.50 L755.70,414.50 C756.70,415.40 759.50,415.40 760.50,414.50 C762.00,414.40 763.00,413.80 763.00,411.90 Z" fill="#ffc090" stroke="#000" stroke-width="0.7"/>
<rect x="751.2" y="410.79999999999995" width="3.6" height="2.4" fill="#000" opacity="0.35"/>
<text x="757.7" y="409.09999999999997" font-size="5.9" textLength="6.3" lengthAdjust="spacingAndGlyphs" text-anchor="middle" font-weight="bold">22</text>
<text x="757.0" y="422.0" font-size="5.9" textLength="12.4" lengthAdjust="spacingAndGlyphs" text-anchor="middle" font-weight="bold">R316</text>
<path d="M778.90,411.90 C778.90,410.00 777.90,409.40 776.40,409.30 C775.40,408.40 772.60,408.40 771.60,409.30 L766.10,409.30 L766.10,408.40 L765.10,408.40 L765.10,415.40 L766.10,415.40 L766.10,414.50 L771.60,414.50 C772.60,415.40 775.40,415.40 776.40,414.50 C777.90,414.40 778.90,413.80 778.90,411.90 Z" fill="#4040ff" stroke="#000" stroke-width="0.7"/>
<rect x="768.3000000000001" y="410.79999999999995" width="3.6" height="2.4" fill="#000" opacity="0.35"/>
<text x="774.8000000000001" y="409.09999999999997" font-size="5.9" textLength="6.3" lengthAdjust="spacingAndGlyphs" text-anchor="middle" font-weight="bold">41</text>
<text x="774.1" y="422.0" font-size="5.9" textLength="12.4" lengthAdjust="spacingAndGlyphs" text-anchor="middle" font-weight="bold">R361</text>
<path d="M795.90,411.90 C795.90,410.00 794.90,409.40 793.40,409.30 C792.40,408.40 789.60,408.40 788.60,409.30 L781.90,409.30 L781.90,408.40 L780.90,408.40 L780.90,415.40 L781.90,415.40 L781.90,414.50 L788.60,414.50 C789.60,415.40 792.40,415.40 793.40,414.50 C794.90,414.40 795.90,413.80 795.90,411.90 Z" fill="#ffc090" stroke="#000" stroke-width="0.7"/>
<rect x="784.1" y="410.79999999999995" width="3.6" height="2.4" fill="#000" opacity="0.35"/>
<text x="790.6" y="409.09999999999997" font-size="5.9" textLength="6.3" lengthAdjust="spacingAndGlyphs" text-anchor="middle" font-weight="bold">21</text>
<text x="789.9" y="422.0" font-size="5.9" textLength="12.4" lengthAdjust="spacingAndGlyphs" text-anchor="middle" font-weight="bold">R316</text>
<use href="#par" x="378.3" y="407.2" fill="#ff0033"/>
<rect x="380.90000000000003" y="410.40000000000003" width="3.2" height="2.2" fill="#000" opacity="0.35"/>
<text x="382.3" y="406.0" font-size="5.9" textLength="6.2" lengthAdjust="spacingAndGlyphs" text-anchor="middle" font-weight="bold">64</text>
<text x="382.3" y="422.20000000000005" font-size="5.9" textLength="9.8" lengthAdjust="spacingAndGlyphs" text-anchor="middle" font-weight="bold">R26</text>
<use href="#par" x="394.3" y="407.2" fill="#0000ff"/>
<rect x="396.90000000000003" y="410.40000000000003" width="3.2" height="2.2" fill="#000" opacity="0.35"/>
<text x="398.3" y="406.0" font-size="5.9" textLength="6.2" lengthAdjust="spacingAndGlyphs" text-anchor="middle" font-weight="bold">84</text>
<text x="398.3" y="422.20000000000005" font-size="5.9" textLength="9.8" lengthAdjust="spacingAndGlyphs" text-anchor="middle" font-weight="bold">R80</text>
<use href="#par" x="465.0" y="407.2" fill="#ff0033"/>
<rect x="467.6" y="410.40000000000003" width="3.2" height="2.2" fill="#000" opacity="0.35"/>
<text x="469.0" y="422.20000000000005" font-size="5.9" textLength="9.8" lengthAdjust="spacingAndGlyphs" text-anchor="middle" font-weight="bold">R26</text>
<use href="#par" x="481.5" y="407.2" fill="#0000ff"/>
<rect x="484.1" y="410.40000000000003" width="3.2" height="2.2" fill="#000" opacity="0.35"/>
<text x="485.5" y="422.20000000000005" font-size="5.9" textLength="9.8" lengthAdjust="spacingAndGlyphs" text-anchor="middle" font-weight="bold">R80</text>
<use href="#par" x="568.3" y="407.2" fill="#ff0033"/>
<rect x="570.9" y="410.40000000000003" width="3.2" height="2.2" fill="#000" opacity="0.35"/>
<text x="572.3" y="406.0" font-size="5.9" textLength="6.2" lengthAdjust="spacingAndGlyphs" text-anchor="middle" font-weight="bold">62</text>
<text x="572.3" y="422.20000000000005" font-size="5.9" textLength="9.8" lengthAdjust="spacingAndGlyphs" text-anchor="middle" font-weight="bold">R26</text>
<use href="#par" x="584.5" y="407.2" fill="#0000ff"/>
<rect x="587.1" y="410.40000000000003" width="3.2" height="2.2" fill="#000" opacity="0.35"/>
<text x="588.5" y="406.0" font-size="5.9" textLength="6.2" lengthAdjust="spacingAndGlyphs" text-anchor="middle" font-weight="bold">82</text>
<text x="588.5" y="422.20000000000005" font-size="5.9" textLength="9.8" lengthAdjust="spacingAndGlyphs" text-anchor="middle" font-weight="bold">R80</text>
<use href="#par" x="655.0" y="407.2" fill="#ff0033"/>
<rect x="657.6" y="410.40000000000003" width="3.2" height="2.2" fill="#000" opacity="0.35"/>
<text x="659.0" y="406.0" font-size="5.9" textLength="6.2" lengthAdjust="spacingAndGlyphs" text-anchor="middle" font-weight="bold">61</text>
<text x="659.0" y="422.20000000000005" font-size="5.9" textLength="9.8" lengthAdjust="spacingAndGlyphs" text-anchor="middle" font-weight="bold">R26</text>
<use href="#par" x="671.0" y="407.2" fill="#0000ff"/>
<rect x="673.6" y="410.40000000000003" width="3.2" height="2.2" fill="#000" opacity="0.35"/>
<text x="675.0" y="406.0" font-size="5.9" textLength="6.2" lengthAdjust="spacingAndGlyphs" text-anchor="middle" font-weight="bold">81</text>
<text x="675.0" y="422.20000000000005" font-size="5.9" textLength="9.8" lengthAdjust="spacingAndGlyphs" text-anchor="middle" font-weight="bold">R80</text>
<use href="#wv" x="428.0" y="405.7"/>
<text x="431.5" y="404.1" font-size="5.9" textLength="9" lengthAdjust="spacingAndGlyphs" text-anchor="middle" font-weight="bold">103</text>
<use href="#wv" x="526.0" y="405.7"/>
<text x="529.5" y="404.1" font-size="5.9" textLength="9" lengthAdjust="spacingAndGlyphs" text-anchor="middle" font-weight="bold">102</text>
<use href="#wv" x="623.2" y="405.7"/>
<text x="626.7" y="404.1" font-size="5.9" textLength="9" lengthAdjust="spacingAndGlyphs" text-anchor="middle" font-weight="bold">101</text>
<rect x="228.3" y="198.8" width="1.4" height="1.4" fill="#8c8c8c"/>
<line x1="233.6" y1="199.5" x2="339" y2="199.5" stroke="#8c8c8c" stroke-width="1.4" stroke-dasharray="6 4.9"/>
<line x1="718" y1="199.5" x2="824" y2="199.5" stroke="#8c8c8c" stroke-width="1.4" stroke-dasharray="6 4.9"/>
<rect x="827.3" y="198.8" width="1.4" height="1.4" fill="#8c8c8c"/>
<rect x="228.3" y="293.40000000000003" width="1.4" height="1.4" fill="#8c8c8c"/>
<line x1="233.6" y1="294.1" x2="339" y2="294.1" stroke="#8c8c8c" stroke-width="1.4" stroke-dasharray="6 4.9"/>
<line x1="718" y1="294.1" x2="824" y2="294.1" stroke="#8c8c8c" stroke-width="1.4" stroke-dasharray="6 4.9"/>
<rect x="827.3" y="293.40000000000003" width="1.4" height="1.4" fill="#8c8c8c"/>
<rect x="228.3" y="373.1" width="1.4" height="1.4" fill="#8c8c8c"/>
<line x1="233.6" y1="373.8" x2="339" y2="373.8" stroke="#8c8c8c" stroke-width="1.4" stroke-dasharray="6 4.9"/>
<line x1="718" y1="373.8" x2="824" y2="373.8" stroke="#8c8c8c" stroke-width="1.4" stroke-dasharray="6 4.9"/>
<rect x="827.3" y="373.1" width="1.4" height="1.4" fill="#8c8c8c"/>
</g>
<g id="booms">
<line x1="181" y1="226.8" x2="267" y2="226.8" stroke="#111" stroke-width="1.8"/>
<path d="M266,224.60000000000002 L269.5,226.8 L266,229.0 Z" fill="#111"/>
<use href="#bv" x="200" y="219.4" fill="#ffa8e0"/>
<rect x="199.7" y="219.4" width="7.3" height="1.1" fill="#111"/>
<rect x="202.6" y="225.8" width="1.6" height="2.4" fill="#000" opacity="0.4"/>
<text x="203.3" y="217.2" font-size="5.9" textLength="9.5" lengthAdjust="spacingAndGlyphs" text-anchor="middle" font-weight="bold">R33</text>
<text x="203.3" y="240.3" font-size="5.9" textLength="5" lengthAdjust="spacingAndGlyphs" text-anchor="middle" font-weight="bold">18</text>
<use href="#bv" x="259.7" y="219.4" fill="#ffd0a0"/>
<rect x="259.4" y="219.4" width="7.3" height="1.1" fill="#111"/>
<rect x="262.3" y="225.8" width="1.6" height="2.4" fill="#000" opacity="0.4"/>
<text x="263" y="217.2" font-size="5.9" textLength="9.5" lengthAdjust="spacingAndGlyphs" text-anchor="middle" font-weight="bold">R20</text>
<text x="263" y="240.3" font-size="5.9" textLength="3" lengthAdjust="spacingAndGlyphs" text-anchor="middle" font-weight="bold">8</text>
<circle cx="279.1" cy="216.3" r="10.6" fill="none" stroke="#aaa" stroke-width="0.9"/>
<path d="M278.20,216.60 C278.20,214.20 279.50,213.40 281.50,213.40 L292.20,213.40 L292.20,213.00 L293.60,213.00 L293.60,220.40 L292.20,220.40 L292.20,219.80 L281.50,219.80 C279.50,219.80 278.20,219.00 278.20,216.60 Z" fill="#808080"/>
<line x1="788.5" y1="226.6" x2="875.5" y2="226.6" stroke="#111" stroke-width="1.8"/>
<use href="#bv" x="791.7" y="219.2" fill="#ffd0a0"/>
<rect x="791.4" y="219.2" width="7.3" height="1.1" fill="#111"/>
<rect x="794.3" y="225.6" width="1.6" height="2.4" fill="#000" opacity="0.4"/>
<text x="795" y="217.2" font-size="5.9" textLength="9.5" lengthAdjust="spacingAndGlyphs" text-anchor="middle" font-weight="bold">R20</text>
<text x="795" y="240.3" font-size="5.9" textLength="3" lengthAdjust="spacingAndGlyphs" text-anchor="middle" font-weight="bold">4</text>
<use href="#bv" x="851.5" y="219.2" fill="#ffa8e0"/>
<rect x="851.2" y="219.2" width="7.3" height="1.1" fill="#111"/>
<rect x="854.1" y="225.6" width="1.6" height="2.4" fill="#000" opacity="0.4"/>
<text x="855" y="217.2" font-size="5.9" textLength="9.5" lengthAdjust="spacingAndGlyphs" text-anchor="middle" font-weight="bold">R33</text>
<text x="855" y="240.3" font-size="5.9" textLength="5" lengthAdjust="spacingAndGlyphs" text-anchor="middle" font-weight="bold">14</text>
<circle cx="778.7" cy="216.1" r="10.6" fill="none" stroke="#aaa" stroke-width="0.9"/>
<path d="M780.20,216.20 C780.20,213.80 778.90,213.00 776.90,213.00 L766.20,213.00 L766.20,212.60 L764.80,212.60 L764.80,220.00 L766.20,220.00 L766.20,219.40 L776.90,219.40 C778.90,219.40 780.20,218.60 780.20,216.20 Z" fill="#808080"/>
<circle cx="279.4" cy="282.3" r="10.4" fill="none" stroke="#aaa" stroke-width="0.9"/>
<rect x="278.7" y="279.5" width="14.7" height="6.2" fill="#808080"/>
<line x1="181" y1="291.6" x2="267" y2="291.6" stroke="#111" stroke-width="1.8"/>
<path d="M266,289.40000000000003 L269.5,291.6 L266,293.8 Z" fill="#111"/>
<use href="#bv" x="200" y="284.2" fill="#ffa8e0"/>
<rect x="199.7" y="284.2" width="7.3" height="1.1" fill="#111"/>
<rect x="202.6" y="290.6" width="1.6" height="2.4" fill="#000" opacity="0.4"/>
<text x="209.3" y="288.3" font-size="5.9" textLength="9.5" lengthAdjust="spacingAndGlyphs" font-weight="bold">R33</text>
<text x="203.3" y="305.3" font-size="5.9" textLength="5" lengthAdjust="spacingAndGlyphs" text-anchor="middle" font-weight="bold">17</text>
<use href="#bv" x="259.7" y="284.2" fill="#ffd0a0"/>
<rect x="259.4" y="284.2" width="7.3" height="1.1" fill="#111"/>
<rect x="262.3" y="290.6" width="1.6" height="2.4" fill="#000" opacity="0.4"/>
<text x="248.5" y="288.3" font-size="5.9" textLength="9.5" lengthAdjust="spacingAndGlyphs" font-weight="bold">R20</text>
<text x="263" y="305.3" font-size="5.9" textLength="3" lengthAdjust="spacingAndGlyphs" text-anchor="middle" font-weight="bold">7</text>
<circle cx="778.5" cy="282" r="10.6" fill="none" stroke="#aaa" stroke-width="0.9"/>
<rect x="765.1" y="279.4" width="13.7" height="5.1" fill="#808080"/>
<line x1="788.5" y1="291.8" x2="875.5" y2="291.8" stroke="#111" stroke-width="1.8"/>
<use href="#bv" x="791.7" y="284.4" fill="#ffd0a0"/>
<rect x="791.4" y="284.4" width="7.3" height="1.1" fill="#111"/>
<rect x="794.3" y="290.8" width="1.6" height="2.4" fill="#000" opacity="0.4"/>
<text x="799.5" y="287" font-size="5.9" textLength="8.1" lengthAdjust="spacingAndGlyphs" font-weight="bold">R20</text>
<text x="795" y="304.5" font-size="5.9" textLength="3" lengthAdjust="spacingAndGlyphs" text-anchor="middle" font-weight="bold">3</text>
<use href="#bv" x="851.5" y="284.4" fill="#ffa8e0"/>
<rect x="851.2" y="284.4" width="7.3" height="1.1" fill="#111"/>
<rect x="854.1" y="290.8" width="1.6" height="2.4" fill="#000" opacity="0.4"/>
<text x="855" y="282" font-size="5.9" textLength="9.5" lengthAdjust="spacingAndGlyphs" text-anchor="middle" font-weight="bold">R33</text>
<text x="855" y="305.3" font-size="5.9" textLength="5" lengthAdjust="spacingAndGlyphs" text-anchor="middle" font-weight="bold">13</text>
<line x1="181" y1="345.4" x2="267" y2="345.4" stroke="#111" stroke-width="1.8"/>
<path d="M266,343.2 L269.5,345.4 L266,347.59999999999997 Z" fill="#111"/>
<use href="#bv" x="200" y="338.0" fill="#ffa8e0"/>
<rect x="199.7" y="338.0" width="7.3" height="1.1" fill="#111"/>
<rect x="202.6" y="344.4" width="1.6" height="2.4" fill="#000" opacity="0.4"/>
<text x="203.3" y="336.2" font-size="5.9" textLength="9.5" lengthAdjust="spacingAndGlyphs" text-anchor="middle" font-weight="bold">R33</text>
<text x="198" y="359.5" font-size="5.9" textLength="5" lengthAdjust="spacingAndGlyphs" text-anchor="middle" font-weight="bold">16</text>
<use href="#bv" x="259.7" y="338.0" fill="#ffd0a0"/>
<rect x="259.4" y="338.0" width="7.3" height="1.1" fill="#111"/>
<rect x="262.3" y="344.4" width="1.6" height="2.4" fill="#000" opacity="0.4"/>
<text x="263" y="336.2" font-size="5.9" textLength="9.5" lengthAdjust="spacingAndGlyphs" text-anchor="middle" font-weight="bold">R20</text>
<text x="257.5" y="355" font-size="5.9" textLength="3" lengthAdjust="spacingAndGlyphs" text-anchor="middle" font-weight="bold">6</text>
<line x1="788.5" y1="345.4" x2="875.5" y2="345.4" stroke="#111" stroke-width="1.8"/>
<use href="#bv" x="791.7" y="338.0" fill="#ffd0a0"/>
<rect x="791.4" y="338.0" width="7.3" height="1.1" fill="#111"/>
<rect x="794.3" y="344.4" width="1.6" height="2.4" fill="#000" opacity="0.4"/>
<text x="795" y="336.2" font-size="5.9" textLength="9.5" lengthAdjust="spacingAndGlyphs" text-anchor="middle" font-weight="bold">R20</text>
<text x="800.5" y="355" font-size="5.9" textLength="3" lengthAdjust="spacingAndGlyphs" text-anchor="middle" font-weight="bold">2</text>
<use href="#bv" x="851.5" y="338.0" fill="#ffa8e0"/>
<rect x="851.2" y="338.0" width="7.3" height="1.1" fill="#111"/>
<rect x="854.1" y="344.4" width="1.6" height="2.4" fill="#000" opacity="0.4"/>
<text x="855" y="336.2" font-size="5.9" textLength="9.5" lengthAdjust="spacingAndGlyphs" text-anchor="middle" font-weight="bold">R33</text>
<text x="855" y="359.5" font-size="5.9" textLength="5" lengthAdjust="spacingAndGlyphs" text-anchor="middle" font-weight="bold">12</text>
<path d="M268.3,357 A10.6,10.6 0 0 1 289.5,357" fill="none" stroke="#aaa" stroke-width="0.9"/>
<rect x="278.2" y="354.9" width="15.4" height="4.8" fill="#808080"/>
<path d="M768.3,357 A10.7,10.7 0 0 1 789.7,357" fill="none" stroke="#aaa" stroke-width="0.9"/>
<rect x="765.1" y="354" width="14.5" height="5.3" fill="#808080"/>
<line x1="202" y1="433" x2="289" y2="433" stroke="#111" stroke-width="1.4"/>
<path d="M288,430.8 L291.5,433 L288,435.2 Z" fill="#111"/>
<use href="#bv" x="221.4" y="425.6" fill="#ffa8e0"/>
<rect x="221.1" y="425.6" width="7.3" height="1.1" fill="#111"/>
<rect x="224.0" y="432.0" width="1.6" height="2.4" fill="#000" opacity="0.4"/>
<text x="224.6" y="422.7" font-size="5.9" textLength="9.5" lengthAdjust="spacingAndGlyphs" text-anchor="middle" font-weight="bold">R33</text>
<text x="218.5" y="442.3" font-size="5.9" textLength="5" lengthAdjust="spacingAndGlyphs" text-anchor="middle" font-weight="bold">15</text>
<use href="#bv" x="281.6" y="425.6" fill="#ffd0a0"/>
<rect x="281.3" y="425.6" width="7.3" height="1.1" fill="#111"/>
<rect x="284.2" y="432.0" width="1.6" height="2.4" fill="#000" opacity="0.4"/>
<text x="274.9" y="431" font-size="5.9" textLength="9.4" lengthAdjust="spacingAndGlyphs" text-anchor="middle" font-weight="bold">R20</text>
<text x="279.3" y="442.3" font-size="5.9" textLength="3" lengthAdjust="spacingAndGlyphs" text-anchor="middle" font-weight="bold">6</text>
<circle cx="306" cy="428.5" r="10.6" fill="none" stroke="#aaa" stroke-width="0.9"/>
<path d="M306.20,428.60 C306.20,426.20 307.50,425.40 309.50,425.40 L320.20,425.40 L320.20,425.00 L321.60,425.00 L321.60,432.40 L320.20,432.40 L320.20,431.80 L309.50,431.80 C307.50,431.80 306.20,431.00 306.20,428.60 Z" fill="#808080"/>
<line x1="766.5" y1="433" x2="854.7" y2="433" stroke="#111" stroke-width="1.4"/>
<use href="#bv" x="769.8" y="425.6" fill="#ffd0a0"/>
<rect x="769.5" y="425.6" width="7.3" height="1.1" fill="#111"/>
<rect x="772.4" y="432.0" width="1.6" height="2.4" fill="#000" opacity="0.4"/>
<text x="777.5" y="429.5" font-size="5.9" textLength="9.5" lengthAdjust="spacingAndGlyphs" font-weight="bold">R20</text>
<text x="781" y="440.5" font-size="5.9" textLength="2.5" lengthAdjust="spacingAndGlyphs" font-weight="bold">1</text>
<use href="#bv" x="830" y="425.6" fill="#ffa8e0"/>
<rect x="829.7" y="425.6" width="7.3" height="1.1" fill="#111"/>
<rect x="832.6" y="432.0" width="1.6" height="2.4" fill="#000" opacity="0.4"/>
<text x="833.2" y="422.7" font-size="5.9" textLength="9.5" lengthAdjust="spacingAndGlyphs" text-anchor="middle" font-weight="bold">R33</text>
<text x="837" y="442.5" font-size="5.9" textLength="5" lengthAdjust="spacingAndGlyphs" font-weight="bold">11</text>
<circle cx="751.8" cy="429" r="10.6" fill="none" stroke="#aaa" stroke-width="0.9"/>
<path d="M753.30,428.40 C753.30,426.00 752.00,425.20 750.00,425.20 L739.30,425.20 L739.30,424.80 L737.90,424.80 L737.90,432.20 L739.30,432.20 L739.30,431.60 L750.00,431.60 C752.00,431.60 753.30,430.80 753.30,428.40 Z" fill="#808080"/>
</g>
<g id="stage" fill="none">
<line x1="195.2" y1="444.2" x2="334.5" y2="444.2" stroke="#000" stroke-width="2.8"/>
<line x1="723.3" y1="444.2" x2="867" y2="444.2" stroke="#000" stroke-width="2.8"/>
<line x1="336" y1="444.5" x2="721.5" y2="444.5" stroke="#999" stroke-width="1" stroke-dasharray="6 4.5"/>
<path d="M334.5,444 C333,470 306,500 268,509.5" stroke="#000" stroke-width="2.6"/>
<path d="M723.5,444 C725,470 752,500 790,509.5" stroke="#000" stroke-width="2.6"/>
<line x1="354.2" y1="476.9" x2="702.4" y2="476.9" stroke="#000" stroke-width="1.8"/>
<path d="M354.6,477 L350.2,495.2 Q345.8,505 339.5,512 C330,522 313,535 290.6,542.3" stroke="#000" stroke-width="1.1"/>
<path d="M702.1,477 L707.8,495.2 Q712.2,505 718.5,512 C728,522 745,535 767.4,542.3" stroke="#000" stroke-width="1.1"/>
<path d="M339,513.7 A190,66.8 0 0 0 719,513.7" stroke="#000" stroke-width="0.8"/>
</g>
<rect x="198.3" y="488.4" width="140" height="53.8" fill="#ffffff" stroke="#333" stroke-width="1"/>
<line x1="300.5" y1="488.4" x2="300.5" y2="542.2" stroke="#333" stroke-width="1"/>
<line x1="198.3" y1="515.2" x2="300.5" y2="515.2" stroke="#333" stroke-width="1"/>
<text x="206.7" y="510" font-size="14" textLength="81.3" lengthAdjust="spacingAndGlyphs" stroke="#000" stroke-width="0.35">WDA-A 2009</text>
<text x="302.7" y="510" font-size="14" textLength="30" lengthAdjust="spacingAndGlyphs" stroke="#000" stroke-width="0.35">Light</text>
<text x="306.3" y="533.5" font-size="14" textLength="23.2" lengthAdjust="spacingAndGlyphs" stroke="#000" stroke-width="0.35">Plot</text>
<text x="204" y="528.7" font-size="7" textLength="81.8" lengthAdjust="spacingAndGlyphs" fill="#333">Wisconsin Union Theatre</text>
<text x="263.6" y="538.5" font-size="7" textLength="28" lengthAdjust="spacingAndGlyphs" fill="#333">5/26/209</text>
<text x="210.6" y="559.5" font-size="7.5" textLength="46.4" lengthAdjust="spacingAndGlyphs" fill="#222">Box Boom SR</text>
<line x1="267.5" y1="551.6" x2="290.6" y2="585.3" stroke="#000" stroke-width="1.1"/>
<line x1="246.1" y1="563" x2="268.4" y2="596.3" stroke="#000" stroke-width="1.1"/>
<text x="285.6" y="568.1" font-size="6.2" textLength="17.2" lengthAdjust="spacingAndGlyphs" font-weight="bold">bottom</text>
<text x="287.2" y="595.8" font-size="6.2" textLength="52.3" lengthAdjust="spacingAndGlyphs" font-weight="bold">Location not to scale</text>
<text x="798" y="558.5" font-size="7.5" textLength="45.2" lengthAdjust="spacingAndGlyphs" fill="#222">Box Boom SL</text>
<line x1="789.3" y1="552.3" x2="766.6" y2="585" stroke="#000" stroke-width="1.1"/>
<line x1="811.2" y1="563.4" x2="788.8" y2="596.6" stroke="#000" stroke-width="1.1"/>
<text x="750" y="567.5" font-size="6.2" textLength="17.2" lengthAdjust="spacingAndGlyphs" font-weight="bold">bottom</text>
<text x="315.6" y="588.8" font-size="7.5" textLength="35.6" lengthAdjust="spacingAndGlyphs" fill="#222">FOH Cove</text>
<text x="707.8" y="588.8" font-size="7.5" textLength="35.5" lengthAdjust="spacingAndGlyphs" fill="#222">FOH Cove</text>
<line x1="354.5" y1="584.6" x2="442" y2="584.6" stroke="#111" stroke-width="1.5"/>
<line x1="614.6" y1="584.4" x2="702" y2="584.4" stroke="#111" stroke-width="1.5"/>
<use href="#foh" x="377.2" y="576" fill="#ffffff"/>
<use href="#foh" x="394.0" y="576" fill="#0022ff"/>
<use href="#foh" x="410.2" y="576" fill="#ffc0c8"/>
<use href="#foh" x="426.8" y="576" fill="#0022ff"/>
<use href="#foh" x="622.0" y="576" fill="#ffc0c8"/>
<use href="#foh" x="638.6" y="576" fill="#0022ff"/>
<use href="#foh" x="654.4" y="576" fill="#ffc0c8"/>
<use href="#foh" transform="translate(362.4,575.6) rotate(30 5 9.5)" fill="#fff"/>
<use href="#foh" transform="translate(674.9,575.6) rotate(-30 5 9.5)" fill="#fff"/>
<circle cx="368.2" cy="581.6" r="1.1" fill="#000"/><circle cx="678.7" cy="581.6" r="1.1" fill="#000"/>
<text x="398.5" y="574.8" font-size="5.9" textLength="9.5" lengthAdjust="spacingAndGlyphs" text-anchor="middle" font-weight="bold">R80</text>
<text x="415" y="574.8" font-size="5.9" textLength="9.5" lengthAdjust="spacingAndGlyphs" text-anchor="middle" font-weight="bold">R06</text>
<text x="431.2" y="574.8" font-size="5.9" textLength="9.5" lengthAdjust="spacingAndGlyphs" text-anchor="middle" font-weight="bold">R80</text>
<text x="627.1" y="574.8" font-size="5.9" textLength="9.5" lengthAdjust="spacingAndGlyphs" text-anchor="middle" font-weight="bold">R06</text>
<text x="643.2" y="574.8" font-size="5.9" textLength="9.5" lengthAdjust="spacingAndGlyphs" text-anchor="middle" font-weight="bold">R80</text>
<text x="659.6" y="574.8" font-size="5.9" textLength="9.5" lengthAdjust="spacingAndGlyphs" text-anchor="middle" font-weight="bold">R06</text>
<text x="358.5" y="599.2" font-size="5.9" textLength="8" lengthAdjust="spacingAndGlyphs" text-anchor="middle" font-weight="bold">100</text>
<text x="374.8" y="599.2" font-size="5.9" textLength="8" lengthAdjust="spacingAndGlyphs" text-anchor="middle" font-weight="bold">124</text>
<text x="391" y="599.2" font-size="5.9" textLength="8" lengthAdjust="spacingAndGlyphs" text-anchor="middle" font-weight="bold">133</text>
<text x="407.8" y="599.2" font-size="5.9" textLength="8" lengthAdjust="spacingAndGlyphs" text-anchor="middle" font-weight="bold">123</text>
<text x="423.8" y="599.2" font-size="5.9" textLength="8" lengthAdjust="spacingAndGlyphs" text-anchor="middle" font-weight="bold">132</text>
<text x="634.2" y="599.2" font-size="5.9" textLength="8" lengthAdjust="spacingAndGlyphs" text-anchor="middle" font-weight="bold">122</text>
<text x="649.8" y="599.2" font-size="5.9" textLength="8" lengthAdjust="spacingAndGlyphs" text-anchor="middle" font-weight="bold">131</text>
<text x="666.5" y="599.2" font-size="5.9" textLength="8" lengthAdjust="spacingAndGlyphs" text-anchor="middle" font-weight="bold">121</text>
<text x="690.2" y="599.2" font-size="5.9" textLength="8" lengthAdjust="spacingAndGlyphs" text-anchor="middle" font-weight="bold">100</text>
</svg></body></html>
